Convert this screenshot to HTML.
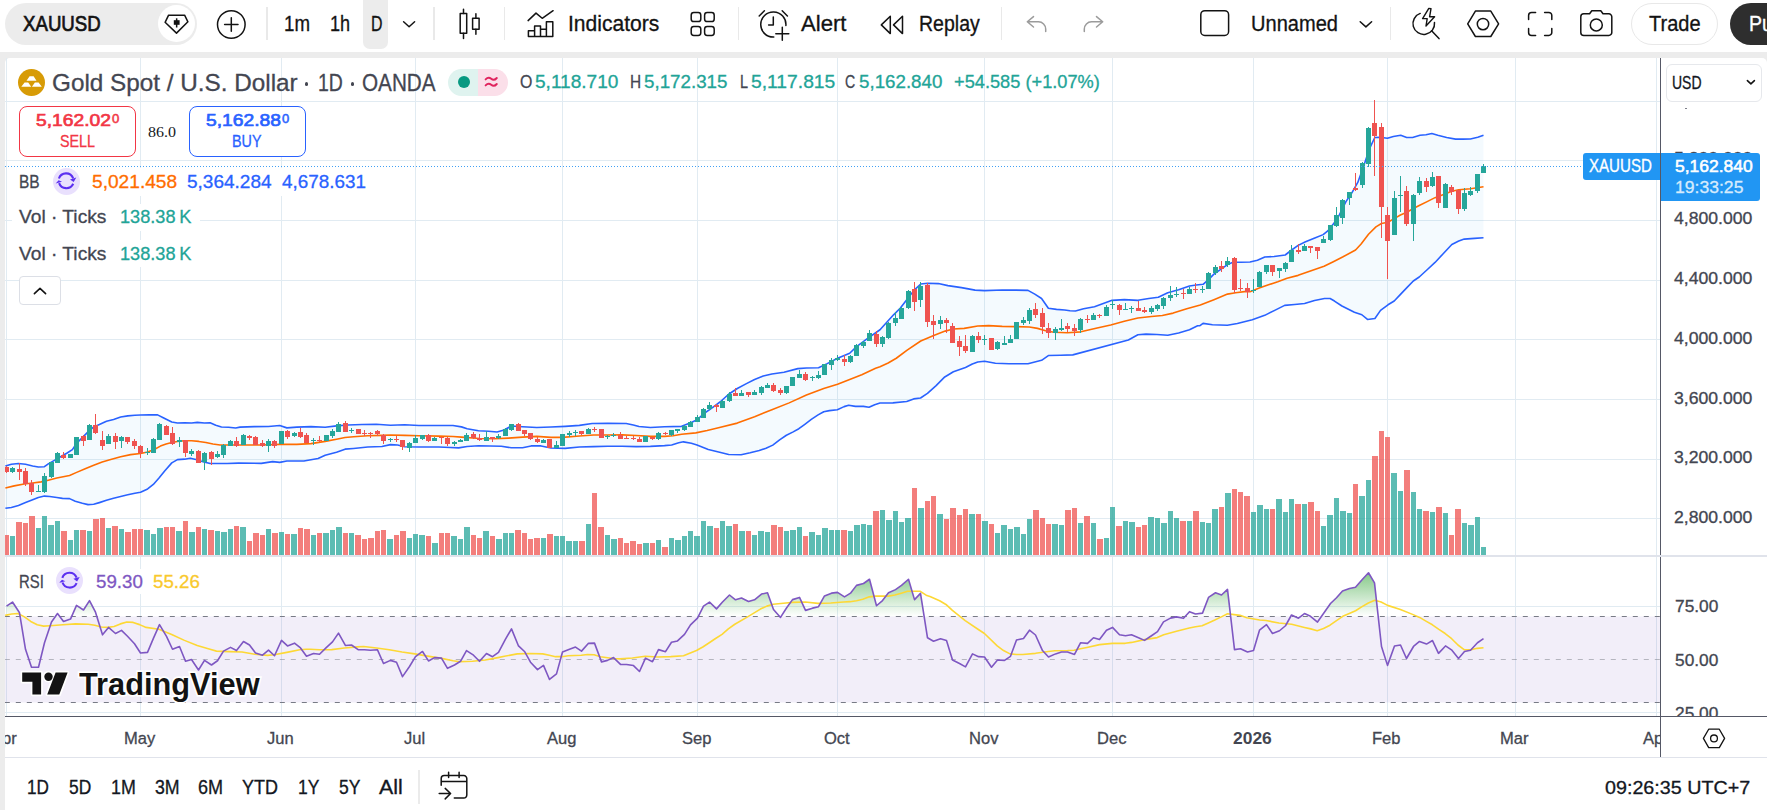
<!DOCTYPE html>
<html lang="en"><head><meta charset="utf-8"><title>XAUUSD chart</title>
<style>
html,body{margin:0;padding:0;background:#fff;}
body{width:1767px;height:810px;overflow:hidden;position:relative;font-family:"Liberation Sans",sans-serif;}
.t,.lg{position:absolute;white-space:nowrap;line-height:1;transform-origin:0 0;display:block;}
.b{position:absolute;box-sizing:border-box;}
</style></head><body>
<div class="b" style="left:0px;top:52px;width:1767px;height:6px;background:#ececec;"></div>
<div class="b" style="left:5px;top:58px;width:8px;height:8px;background:#ececec;"></div>
<div class="b" style="left:5px;top:58px;width:16px;height:16px;background:#fff;border-top-left-radius:5px;"></div>
<div class="b" style="left:1759px;top:58px;width:8px;height:8px;background:#ececec;"></div>
<div class="b" style="left:1751px;top:58px;width:16px;height:16px;background:#fff;border-top-right-radius:5px;"></div>
<div class="b" style="left:5px;top:3px;width:192px;height:42px;background:#ececec;border-radius:21px;"></div>
<div class="b" style="left:158px;top:5px;width:37.4px;height:37.4px;background:#fff;border-radius:50%;"></div>
<div class="b" style="left:363px;top:-8px;width:25px;height:56.6px;background:#ececec;border-radius:7px;"></div>
<div class="b" style="left:266.3px;top:6.8px;width:1.6px;height:33px;background:#e9e9e9;"></div>
<div class="b" style="left:433.3px;top:6.8px;width:1.6px;height:33px;background:#e9e9e9;"></div>
<div class="b" style="left:503.8px;top:6.8px;width:1.6px;height:33px;background:#e9e9e9;"></div>
<div class="b" style="left:737.5999999999999px;top:6.8px;width:1.6px;height:33px;background:#e9e9e9;"></div>
<div class="b" style="left:1000.8px;top:6.8px;width:1.6px;height:33px;background:#e9e9e9;"></div>
<div class="b" style="left:1389.8px;top:6.8px;width:1.6px;height:33px;background:#e9e9e9;"></div>
<div class="b" style="left:1631.3px;top:3px;width:86.6px;height:41.6px;background:#fff;border:1px solid #e8e8e8;border-radius:21px;"></div>
<div class="b" style="left:1730px;top:3px;width:80px;height:41.6px;background:#2e2e2e;border-radius:21px;"></div>
<div class="b" style="left:418.3px;top:770.2px;width:1.6px;height:33.8px;background:#ebebeb;"></div>
<svg width="1767" height="810" viewBox="0 0 1767 810" style="position:absolute;left:0;top:0" shape-rendering="auto">
<defs>
<clipPath id="cm"><rect x="5" y="58" width="1655" height="497"/></clipPath>
<clipPath id="cr"><rect x="5" y="557" width="1655" height="159"/></clipPath>
<linearGradient id="gg" gradientUnits="userSpaceOnUse" x1="0" y1="616.5" x2="0" y2="552"><stop offset="0" stop-color="#4caf50" stop-opacity="0"/><stop offset="1" stop-color="#4caf50" stop-opacity="1"/></linearGradient>
</defs>
<g fill="#e1ebf2" shape-rendering="crispEdges">
<rect x="6" y="58" width="1" height="497"/>
<rect x="6" y="557" width="1" height="159"/>
<rect x="140" y="58" width="1" height="497"/>
<rect x="140" y="557" width="1" height="159"/>
<rect x="281" y="58" width="1" height="497"/>
<rect x="281" y="557" width="1" height="159"/>
<rect x="415" y="58" width="1" height="497"/>
<rect x="415" y="557" width="1" height="159"/>
<rect x="562" y="58" width="1" height="497"/>
<rect x="562" y="557" width="1" height="159"/>
<rect x="697" y="58" width="1" height="497"/>
<rect x="697" y="557" width="1" height="159"/>
<rect x="837" y="58" width="1" height="497"/>
<rect x="837" y="557" width="1" height="159"/>
<rect x="984" y="58" width="1" height="497"/>
<rect x="984" y="557" width="1" height="159"/>
<rect x="1112" y="58" width="1" height="497"/>
<rect x="1112" y="557" width="1" height="159"/>
<rect x="1253" y="58" width="1" height="497"/>
<rect x="1253" y="557" width="1" height="159"/>
<rect x="1387" y="58" width="1" height="497"/>
<rect x="1387" y="557" width="1" height="159"/>
<rect x="1515" y="58" width="1" height="497"/>
<rect x="1515" y="557" width="1" height="159"/>
<rect x="1656" y="58" width="1" height="497"/>
<rect x="1656" y="557" width="1" height="159"/>
<rect x="5" y="101" width="1655" height="1"/>
<rect x="5" y="160" width="1655" height="1"/>
<rect x="5" y="220" width="1655" height="1"/>
<rect x="5" y="280" width="1655" height="1"/>
<rect x="5" y="339" width="1655" height="1"/>
<rect x="5" y="399" width="1655" height="1"/>
<rect x="5" y="459" width="1655" height="1"/>
<rect x="5" y="518" width="1655" height="1"/>
<rect x="5" y="606" width="1655" height="1"/>
<rect x="5" y="712" width="1655" height="1"/>
</g>
<g clip-path="url(#cm)">
<polygon points="5.39,465.98 11.36,464.28 18.46,463.57 25.55,464.28 32.65,465.98 38.33,466.98 44.43,466.69 48.27,463.85 53.95,460.59 59.63,457.18 66.72,453.21 72.4,449.66 76.66,443.27 82.34,437.59 88.02,431.91 93.7,426.94 99.38,424.53 106.47,421.26 113.57,419.42 120.67,417 127.77,415.87 134.87,415.3 140.55,415.02 149.06,414.88 157.58,414.88 163.26,417.71 171.78,421.97 177.46,422.97 184.55,422.68 191.65,422.97 197.33,422.4 204.43,422.97 210.11,422.83 215.79,425.24 221.47,426.94 228.56,427.23 235.66,427.94 240,427.16 254.2,426.6 268.39,426.45 279.75,425.46 286.85,427.87 296.79,427.16 310.98,426.6 325.18,427.31 336.54,425.89 347.89,425.03 362.09,424.47 376.29,424.32 390.48,425.18 404.68,424.75 418.88,425.46 438.75,425.46 452.95,425.46 461.47,426.88 467.14,428.73 478.5,430.71 488.52,431.3 497.04,432.01 504.13,430.02 511.23,426.04 522.59,426.75 536.79,427.46 550.98,427.04 565.18,426.33 579.38,425.34 592.15,423.49 607.77,423.21 626.22,423.49 633.32,424.91 639,426.47 650.36,427.46 664.55,426.75 681.59,426.33 690.11,422.92 697.21,419.66 704.3,413.27 711.4,408.3 720,402.01 728.64,394.23 737.29,388.52 745.93,383.85 754.58,379.53 763.22,376.07 771.87,374 783.97,372.27 797.8,368.64 806.45,367.95 818.55,367.77 827.19,363.62 837.57,358.26 849.67,353.25 856.58,346.68 866.96,338.9 880,329.74 886.79,322.27 893.58,314.81 900.37,308.02 907.16,299.19 913.94,290.37 920.73,283.99 927.52,283.31 938.38,283.58 947.89,285.61 961.47,287.65 975.04,290.1 984.55,290.64 1002.2,289.96 1015.78,290.1 1028,290.37 1034.79,294.17 1041.58,298.51 1048.36,308.29 1056.51,309.38 1064.66,310.05 1070,310.79 1075.43,311.06 1083.58,308.75 1094.44,306.71 1103.94,303.32 1112.09,300.33 1124.31,299.65 1137.89,300.33 1148.75,298.57 1158.26,297.21 1167.76,292.73 1178.62,289.74 1189.48,285.94 1196.27,284.99 1203.06,284.31 1208.49,279.56 1213.92,274.13 1220.71,269.38 1227.5,264.62 1232.93,262.32 1241.08,262.18 1250,262.04 1257.41,260.19 1264.81,257.04 1274.07,256.48 1285.19,255 1291.67,250 1298.15,245.37 1305.56,241.67 1314.81,237.96 1323.15,234.63 1327.78,230.93 1333.33,224.07 1338.89,215.74 1345.93,201.67 1351.85,192.78 1357.78,182.41 1363.7,166.11 1369.63,148.33 1374.81,137.52 1380,137.22 1387.41,138.26 1393.33,136.48 1400.74,135.3 1406.67,137.52 1412.59,137.52 1420,135.3 1425.93,134.7 1431.85,133.52 1437.78,135.3 1446.67,137.52 1455.56,139.15 1462.96,139.15 1470.37,139 1477.78,137.22 1483.5,135.3 1483.5,237.73 1474.53,238.33 1464.27,239.12 1458.74,241.09 1451.82,244.45 1442.94,253.93 1435.04,262.42 1427.14,269.72 1419.24,277.03 1413.32,280.98 1407.39,287.1 1400.48,294.41 1394.22,301.05 1388,304.78 1380.53,310.38 1374.93,318.48 1367.46,319.47 1361.85,314.74 1354.38,312.25 1341.93,306.03 1334.46,301.05 1330.1,298.56 1324.5,298.56 1314.54,300.42 1304.58,303.54 1294.62,304.53 1284.66,305.4 1274.7,310.38 1264.74,315.36 1252.29,319.72 1237.35,323.46 1227.39,325.32 1212.45,324.7 1203.06,323.41 1200,325.7 1197.63,325.72 1189.48,329.8 1178.62,332.92 1167.76,335.23 1156.9,334.55 1146.04,334.14 1137.89,334.82 1128.38,339.98 1072.8,354.86 1060.58,355.27 1048.36,355.54 1041.58,360.29 1034.79,361.92 1028,363.69 1008.99,363.69 995.41,363.28 984.55,361.24 977.76,362.06 972.33,363.96 965.5,367.43 953.4,371.75 944.76,376.94 936.11,385.58 927.47,393.36 920.55,398.03 913.64,398.89 906.72,401.49 892.89,402.87 880,403.02 874.68,404.71 869.02,407.2 863.36,406.41 855.44,406.41 848.65,405.28 844.12,406.64 837.33,409.81 829.41,410.6 823.75,411.73 818.09,414.9 811.3,419.43 804.5,424.52 798.85,428.71 793.19,431.88 786.4,435.27 779.6,439.8 772.81,445.12 766.02,448.29 759.23,450.55 750.18,452.82 741.12,454.74 728.67,454.52 719.62,452.25 708.3,449.42 696.98,444.9 691.32,443.2 683.4,441.84 678.75,442.8 671.65,444.93 664.55,445.64 650.36,446.35 636.16,446.63 621.96,446.2 607.77,446.2 593.57,446.63 579.38,447.06 565.18,448.33 550.98,448.05 541.04,445.92 531.11,445.92 522.59,447.77 511.23,447.77 501.29,446.2 478.5,445.76 467.14,446.47 458.63,447.89 450.11,447.46 438.75,447.04 418.88,447.04 404.68,446.75 397.58,445.05 390.48,444.63 381.96,446.47 367.77,447.04 353.57,448.46 345.05,449.17 336.54,452.15 325.18,455.27 318.08,458.54 303.88,460.95 286.85,460.95 279.75,462.37 272.65,461.66 261.29,463.36 238.5,463.14 227.14,463.43 215.79,463.57 210.11,463.57 203.01,461.72 195.91,459.59 190.23,458.17 184.55,459.17 177.46,459.59 171.78,462.86 164.68,470.95 159,478.05 153.32,484.44 147.64,488.98 140.55,492.25 134.87,493.24 127.77,494.8 120.67,496.5 113.57,498.35 106.47,500.34 99.38,502.61 93.7,504.31 88.02,504.6 82.34,503.18 75.24,501.19 69.56,498.63 62.46,498.35 56.79,497.5 49.69,496.5 44.43,496.08 38.33,497.5 32.65,499.77 25.55,502.61 18.46,505.45 11.36,507.44 5.39,508.29" fill="#2196f3" fill-opacity="0.05"/>
<g shape-rendering="crispEdges">
<rect x="4" y="535" width="5" height="20" fill="#ef5350" fill-opacity="0.75"/>
<rect x="10" y="536" width="5" height="19" fill="#26a69a" fill-opacity="0.75"/>
<rect x="16" y="522" width="6" height="33" fill="#ef5350" fill-opacity="0.75"/>
<rect x="23" y="523" width="5" height="32" fill="#ef5350" fill-opacity="0.75"/>
<rect x="29" y="516" width="6" height="39" fill="#ef5350" fill-opacity="0.75"/>
<rect x="36" y="528" width="5" height="27" fill="#26a69a" fill-opacity="0.75"/>
<rect x="42" y="516" width="5" height="39" fill="#26a69a" fill-opacity="0.75"/>
<rect x="48" y="525" width="6" height="30" fill="#26a69a" fill-opacity="0.75"/>
<rect x="55" y="521" width="5" height="34" fill="#26a69a" fill-opacity="0.75"/>
<rect x="61" y="531" width="6" height="24" fill="#ef5350" fill-opacity="0.75"/>
<rect x="68" y="540" width="5" height="15" fill="#26a69a" fill-opacity="0.75"/>
<rect x="74" y="530" width="5" height="25" fill="#26a69a" fill-opacity="0.75"/>
<rect x="80" y="530" width="6" height="25" fill="#ef5350" fill-opacity="0.75"/>
<rect x="87" y="531" width="5" height="24" fill="#26a69a" fill-opacity="0.75"/>
<rect x="93" y="519" width="6" height="36" fill="#ef5350" fill-opacity="0.75"/>
<rect x="100" y="518" width="5" height="37" fill="#ef5350" fill-opacity="0.75"/>
<rect x="106" y="528" width="5" height="27" fill="#26a69a" fill-opacity="0.75"/>
<rect x="112" y="526" width="6" height="29" fill="#ef5350" fill-opacity="0.75"/>
<rect x="119" y="529" width="5" height="26" fill="#26a69a" fill-opacity="0.75"/>
<rect x="125" y="532" width="6" height="23" fill="#ef5350" fill-opacity="0.75"/>
<rect x="132" y="529" width="5" height="26" fill="#ef5350" fill-opacity="0.75"/>
<rect x="138" y="529" width="5" height="26" fill="#ef5350" fill-opacity="0.75"/>
<rect x="144" y="530" width="6" height="25" fill="#26a69a" fill-opacity="0.75"/>
<rect x="151" y="534" width="5" height="21" fill="#26a69a" fill-opacity="0.75"/>
<rect x="157" y="528" width="6" height="27" fill="#26a69a" fill-opacity="0.75"/>
<rect x="164" y="527" width="5" height="28" fill="#ef5350" fill-opacity="0.75"/>
<rect x="170" y="527" width="5" height="28" fill="#ef5350" fill-opacity="0.75"/>
<rect x="176" y="531" width="6" height="24" fill="#26a69a" fill-opacity="0.75"/>
<rect x="183" y="521" width="5" height="34" fill="#ef5350" fill-opacity="0.75"/>
<rect x="189" y="532" width="6" height="23" fill="#26a69a" fill-opacity="0.75"/>
<rect x="196" y="527" width="5" height="28" fill="#ef5350" fill-opacity="0.75"/>
<rect x="202" y="529" width="5" height="26" fill="#26a69a" fill-opacity="0.75"/>
<rect x="208" y="530" width="6" height="25" fill="#ef5350" fill-opacity="0.75"/>
<rect x="215" y="531" width="5" height="24" fill="#26a69a" fill-opacity="0.75"/>
<rect x="221" y="532" width="6" height="23" fill="#26a69a" fill-opacity="0.75"/>
<rect x="228" y="529" width="5" height="26" fill="#26a69a" fill-opacity="0.75"/>
<rect x="234" y="526" width="5" height="29" fill="#ef5350" fill-opacity="0.75"/>
<rect x="240" y="527" width="6" height="28" fill="#26a69a" fill-opacity="0.75"/>
<rect x="247" y="541" width="5" height="14" fill="#ef5350" fill-opacity="0.75"/>
<rect x="253" y="533" width="6" height="22" fill="#ef5350" fill-opacity="0.75"/>
<rect x="260" y="535" width="5" height="20" fill="#ef5350" fill-opacity="0.75"/>
<rect x="266" y="529" width="5" height="26" fill="#26a69a" fill-opacity="0.75"/>
<rect x="272" y="533" width="6" height="22" fill="#ef5350" fill-opacity="0.75"/>
<rect x="279" y="532" width="5" height="23" fill="#26a69a" fill-opacity="0.75"/>
<rect x="285" y="534" width="5" height="21" fill="#ef5350" fill-opacity="0.75"/>
<rect x="291" y="534" width="6" height="21" fill="#26a69a" fill-opacity="0.75"/>
<rect x="298" y="528" width="5" height="27" fill="#ef5350" fill-opacity="0.75"/>
<rect x="304" y="529" width="6" height="26" fill="#ef5350" fill-opacity="0.75"/>
<rect x="311" y="535" width="5" height="20" fill="#26a69a" fill-opacity="0.75"/>
<rect x="317" y="533" width="5" height="22" fill="#ef5350" fill-opacity="0.75"/>
<rect x="323" y="533" width="6" height="22" fill="#26a69a" fill-opacity="0.75"/>
<rect x="330" y="530" width="5" height="25" fill="#26a69a" fill-opacity="0.75"/>
<rect x="336" y="527" width="6" height="28" fill="#26a69a" fill-opacity="0.75"/>
<rect x="343" y="533" width="5" height="22" fill="#ef5350" fill-opacity="0.75"/>
<rect x="349" y="533" width="5" height="22" fill="#26a69a" fill-opacity="0.75"/>
<rect x="355" y="535" width="6" height="20" fill="#ef5350" fill-opacity="0.75"/>
<rect x="362" y="539" width="5" height="16" fill="#ef5350" fill-opacity="0.75"/>
<rect x="368" y="538" width="6" height="17" fill="#ef5350" fill-opacity="0.75"/>
<rect x="375" y="531" width="5" height="24" fill="#ef5350" fill-opacity="0.75"/>
<rect x="381" y="530" width="5" height="25" fill="#ef5350" fill-opacity="0.75"/>
<rect x="387" y="539" width="6" height="16" fill="#26a69a" fill-opacity="0.75"/>
<rect x="394" y="535" width="5" height="20" fill="#ef5350" fill-opacity="0.75"/>
<rect x="400" y="531" width="6" height="24" fill="#ef5350" fill-opacity="0.75"/>
<rect x="407" y="538" width="5" height="17" fill="#26a69a" fill-opacity="0.75"/>
<rect x="413" y="534" width="5" height="21" fill="#26a69a" fill-opacity="0.75"/>
<rect x="419" y="535" width="6" height="20" fill="#26a69a" fill-opacity="0.75"/>
<rect x="426" y="536" width="5" height="19" fill="#ef5350" fill-opacity="0.75"/>
<rect x="432" y="543" width="6" height="12" fill="#26a69a" fill-opacity="0.75"/>
<rect x="439" y="533" width="5" height="22" fill="#ef5350" fill-opacity="0.75"/>
<rect x="445" y="533" width="5" height="22" fill="#ef5350" fill-opacity="0.75"/>
<rect x="451" y="536" width="6" height="19" fill="#26a69a" fill-opacity="0.75"/>
<rect x="458" y="539" width="5" height="16" fill="#26a69a" fill-opacity="0.75"/>
<rect x="464" y="527" width="6" height="28" fill="#26a69a" fill-opacity="0.75"/>
<rect x="471" y="535" width="5" height="20" fill="#ef5350" fill-opacity="0.75"/>
<rect x="477" y="538" width="5" height="17" fill="#ef5350" fill-opacity="0.75"/>
<rect x="483" y="531" width="6" height="24" fill="#26a69a" fill-opacity="0.75"/>
<rect x="490" y="536" width="5" height="19" fill="#ef5350" fill-opacity="0.75"/>
<rect x="496" y="539" width="6" height="16" fill="#26a69a" fill-opacity="0.75"/>
<rect x="503" y="533" width="5" height="22" fill="#26a69a" fill-opacity="0.75"/>
<rect x="509" y="533" width="5" height="22" fill="#26a69a" fill-opacity="0.75"/>
<rect x="515" y="530" width="6" height="25" fill="#ef5350" fill-opacity="0.75"/>
<rect x="522" y="533" width="5" height="22" fill="#ef5350" fill-opacity="0.75"/>
<rect x="528" y="539" width="5" height="16" fill="#ef5350" fill-opacity="0.75"/>
<rect x="534" y="538" width="6" height="17" fill="#ef5350" fill-opacity="0.75"/>
<rect x="541" y="538" width="5" height="17" fill="#26a69a" fill-opacity="0.75"/>
<rect x="547" y="534" width="6" height="21" fill="#ef5350" fill-opacity="0.75"/>
<rect x="554" y="536" width="5" height="19" fill="#26a69a" fill-opacity="0.75"/>
<rect x="560" y="536" width="5" height="19" fill="#26a69a" fill-opacity="0.75"/>
<rect x="566" y="541" width="6" height="14" fill="#26a69a" fill-opacity="0.75"/>
<rect x="573" y="541" width="5" height="14" fill="#26a69a" fill-opacity="0.75"/>
<rect x="579" y="541" width="6" height="14" fill="#ef5350" fill-opacity="0.75"/>
<rect x="586" y="524" width="5" height="31" fill="#26a69a" fill-opacity="0.75"/>
<rect x="592" y="493" width="5" height="62" fill="#ef5350" fill-opacity="0.75"/>
<rect x="598" y="527" width="6" height="28" fill="#ef5350" fill-opacity="0.75"/>
<rect x="605" y="535" width="5" height="20" fill="#26a69a" fill-opacity="0.75"/>
<rect x="611" y="539" width="6" height="16" fill="#26a69a" fill-opacity="0.75"/>
<rect x="618" y="538" width="5" height="17" fill="#ef5350" fill-opacity="0.75"/>
<rect x="624" y="543" width="5" height="12" fill="#ef5350" fill-opacity="0.75"/>
<rect x="630" y="541" width="6" height="14" fill="#ef5350" fill-opacity="0.75"/>
<rect x="637" y="544" width="5" height="11" fill="#ef5350" fill-opacity="0.75"/>
<rect x="643" y="543" width="6" height="12" fill="#26a69a" fill-opacity="0.75"/>
<rect x="650" y="543" width="5" height="12" fill="#ef5350" fill-opacity="0.75"/>
<rect x="656" y="540" width="5" height="15" fill="#26a69a" fill-opacity="0.75"/>
<rect x="662" y="547" width="6" height="8" fill="#ef5350" fill-opacity="0.75"/>
<rect x="669" y="538" width="5" height="17" fill="#26a69a" fill-opacity="0.75"/>
<rect x="675" y="540" width="6" height="15" fill="#26a69a" fill-opacity="0.75"/>
<rect x="682" y="536" width="5" height="19" fill="#26a69a" fill-opacity="0.75"/>
<rect x="688" y="531" width="5" height="24" fill="#26a69a" fill-opacity="0.75"/>
<rect x="694" y="536" width="6" height="19" fill="#26a69a" fill-opacity="0.75"/>
<rect x="701" y="521" width="5" height="34" fill="#26a69a" fill-opacity="0.75"/>
<rect x="707" y="526" width="6" height="29" fill="#26a69a" fill-opacity="0.75"/>
<rect x="714" y="528" width="5" height="27" fill="#ef5350" fill-opacity="0.75"/>
<rect x="720" y="521" width="5" height="34" fill="#26a69a" fill-opacity="0.75"/>
<rect x="726" y="526" width="6" height="29" fill="#26a69a" fill-opacity="0.75"/>
<rect x="733" y="524" width="5" height="31" fill="#ef5350" fill-opacity="0.75"/>
<rect x="739" y="531" width="6" height="24" fill="#26a69a" fill-opacity="0.75"/>
<rect x="746" y="531" width="5" height="24" fill="#ef5350" fill-opacity="0.75"/>
<rect x="752" y="535" width="5" height="20" fill="#26a69a" fill-opacity="0.75"/>
<rect x="758" y="531" width="6" height="24" fill="#26a69a" fill-opacity="0.75"/>
<rect x="765" y="532" width="5" height="23" fill="#26a69a" fill-opacity="0.75"/>
<rect x="771" y="525" width="6" height="30" fill="#ef5350" fill-opacity="0.75"/>
<rect x="778" y="527" width="5" height="28" fill="#ef5350" fill-opacity="0.75"/>
<rect x="784" y="531" width="5" height="24" fill="#26a69a" fill-opacity="0.75"/>
<rect x="790" y="530" width="6" height="25" fill="#26a69a" fill-opacity="0.75"/>
<rect x="797" y="527" width="5" height="28" fill="#26a69a" fill-opacity="0.75"/>
<rect x="803" y="536" width="5" height="19" fill="#ef5350" fill-opacity="0.75"/>
<rect x="809" y="532" width="6" height="23" fill="#26a69a" fill-opacity="0.75"/>
<rect x="816" y="535" width="5" height="20" fill="#26a69a" fill-opacity="0.75"/>
<rect x="822" y="528" width="6" height="27" fill="#26a69a" fill-opacity="0.75"/>
<rect x="829" y="530" width="5" height="25" fill="#26a69a" fill-opacity="0.75"/>
<rect x="835" y="530" width="5" height="25" fill="#26a69a" fill-opacity="0.75"/>
<rect x="841" y="530" width="6" height="25" fill="#ef5350" fill-opacity="0.75"/>
<rect x="848" y="531" width="5" height="24" fill="#26a69a" fill-opacity="0.75"/>
<rect x="854" y="525" width="6" height="30" fill="#26a69a" fill-opacity="0.75"/>
<rect x="861" y="524" width="5" height="31" fill="#26a69a" fill-opacity="0.75"/>
<rect x="867" y="525" width="5" height="30" fill="#26a69a" fill-opacity="0.75"/>
<rect x="873" y="511" width="6" height="44" fill="#ef5350" fill-opacity="0.75"/>
<rect x="880" y="510" width="5" height="45" fill="#26a69a" fill-opacity="0.75"/>
<rect x="886" y="520" width="6" height="35" fill="#26a69a" fill-opacity="0.75"/>
<rect x="893" y="511" width="5" height="44" fill="#26a69a" fill-opacity="0.75"/>
<rect x="899" y="522" width="5" height="33" fill="#26a69a" fill-opacity="0.75"/>
<rect x="905" y="518" width="6" height="37" fill="#26a69a" fill-opacity="0.75"/>
<rect x="912" y="488" width="5" height="67" fill="#ef5350" fill-opacity="0.75"/>
<rect x="918" y="508" width="6" height="47" fill="#26a69a" fill-opacity="0.75"/>
<rect x="925" y="501" width="5" height="54" fill="#ef5350" fill-opacity="0.75"/>
<rect x="931" y="496" width="5" height="59" fill="#ef5350" fill-opacity="0.75"/>
<rect x="937" y="514" width="6" height="41" fill="#26a69a" fill-opacity="0.75"/>
<rect x="944" y="519" width="5" height="36" fill="#ef5350" fill-opacity="0.75"/>
<rect x="950" y="508" width="6" height="47" fill="#ef5350" fill-opacity="0.75"/>
<rect x="957" y="515" width="5" height="40" fill="#ef5350" fill-opacity="0.75"/>
<rect x="963" y="509" width="5" height="46" fill="#ef5350" fill-opacity="0.75"/>
<rect x="969" y="514" width="6" height="41" fill="#26a69a" fill-opacity="0.75"/>
<rect x="976" y="514" width="5" height="41" fill="#ef5350" fill-opacity="0.75"/>
<rect x="982" y="521" width="6" height="34" fill="#26a69a" fill-opacity="0.75"/>
<rect x="989" y="524" width="5" height="31" fill="#ef5350" fill-opacity="0.75"/>
<rect x="995" y="533" width="5" height="22" fill="#26a69a" fill-opacity="0.75"/>
<rect x="1001" y="525" width="6" height="30" fill="#26a69a" fill-opacity="0.75"/>
<rect x="1008" y="529" width="5" height="26" fill="#26a69a" fill-opacity="0.75"/>
<rect x="1014" y="527" width="6" height="28" fill="#26a69a" fill-opacity="0.75"/>
<rect x="1021" y="534" width="5" height="21" fill="#26a69a" fill-opacity="0.75"/>
<rect x="1027" y="519" width="5" height="36" fill="#26a69a" fill-opacity="0.75"/>
<rect x="1033" y="510" width="6" height="45" fill="#ef5350" fill-opacity="0.75"/>
<rect x="1040" y="518" width="5" height="37" fill="#ef5350" fill-opacity="0.75"/>
<rect x="1046" y="524" width="5" height="31" fill="#ef5350" fill-opacity="0.75"/>
<rect x="1052" y="524" width="6" height="31" fill="#26a69a" fill-opacity="0.75"/>
<rect x="1059" y="525" width="5" height="30" fill="#26a69a" fill-opacity="0.75"/>
<rect x="1065" y="510" width="6" height="45" fill="#ef5350" fill-opacity="0.75"/>
<rect x="1072" y="508" width="5" height="47" fill="#ef5350" fill-opacity="0.75"/>
<rect x="1078" y="523" width="5" height="32" fill="#26a69a" fill-opacity="0.75"/>
<rect x="1084" y="516" width="6" height="39" fill="#ef5350" fill-opacity="0.75"/>
<rect x="1091" y="523" width="5" height="32" fill="#26a69a" fill-opacity="0.75"/>
<rect x="1097" y="539" width="6" height="16" fill="#ef5350" fill-opacity="0.75"/>
<rect x="1104" y="538" width="5" height="17" fill="#26a69a" fill-opacity="0.75"/>
<rect x="1110" y="507" width="5" height="48" fill="#26a69a" fill-opacity="0.75"/>
<rect x="1116" y="526" width="6" height="29" fill="#ef5350" fill-opacity="0.75"/>
<rect x="1123" y="521" width="5" height="34" fill="#26a69a" fill-opacity="0.75"/>
<rect x="1129" y="522" width="6" height="33" fill="#26a69a" fill-opacity="0.75"/>
<rect x="1136" y="527" width="5" height="28" fill="#ef5350" fill-opacity="0.75"/>
<rect x="1142" y="525" width="5" height="30" fill="#ef5350" fill-opacity="0.75"/>
<rect x="1148" y="517" width="6" height="38" fill="#26a69a" fill-opacity="0.75"/>
<rect x="1155" y="518" width="5" height="37" fill="#26a69a" fill-opacity="0.75"/>
<rect x="1161" y="523" width="6" height="32" fill="#26a69a" fill-opacity="0.75"/>
<rect x="1168" y="511" width="5" height="44" fill="#26a69a" fill-opacity="0.75"/>
<rect x="1174" y="518" width="5" height="37" fill="#26a69a" fill-opacity="0.75"/>
<rect x="1180" y="521" width="6" height="34" fill="#ef5350" fill-opacity="0.75"/>
<rect x="1187" y="521" width="5" height="34" fill="#26a69a" fill-opacity="0.75"/>
<rect x="1193" y="511" width="6" height="44" fill="#ef5350" fill-opacity="0.75"/>
<rect x="1200" y="522" width="5" height="33" fill="#26a69a" fill-opacity="0.75"/>
<rect x="1206" y="523" width="5" height="32" fill="#26a69a" fill-opacity="0.75"/>
<rect x="1212" y="509" width="6" height="46" fill="#26a69a" fill-opacity="0.75"/>
<rect x="1219" y="507" width="5" height="48" fill="#ef5350" fill-opacity="0.75"/>
<rect x="1225" y="493" width="6" height="62" fill="#26a69a" fill-opacity="0.75"/>
<rect x="1232" y="489" width="5" height="66" fill="#ef5350" fill-opacity="0.75"/>
<rect x="1238" y="492" width="5" height="63" fill="#ef5350" fill-opacity="0.75"/>
<rect x="1244" y="496" width="6" height="59" fill="#ef5350" fill-opacity="0.75"/>
<rect x="1251" y="512" width="5" height="43" fill="#26a69a" fill-opacity="0.75"/>
<rect x="1257" y="505" width="6" height="50" fill="#26a69a" fill-opacity="0.75"/>
<rect x="1264" y="509" width="5" height="46" fill="#26a69a" fill-opacity="0.75"/>
<rect x="1270" y="509" width="5" height="46" fill="#ef5350" fill-opacity="0.75"/>
<rect x="1276" y="499" width="6" height="56" fill="#26a69a" fill-opacity="0.75"/>
<rect x="1283" y="512" width="5" height="43" fill="#26a69a" fill-opacity="0.75"/>
<rect x="1289" y="499" width="5" height="56" fill="#26a69a" fill-opacity="0.75"/>
<rect x="1295" y="504" width="6" height="51" fill="#ef5350" fill-opacity="0.75"/>
<rect x="1302" y="504" width="5" height="51" fill="#26a69a" fill-opacity="0.75"/>
<rect x="1308" y="502" width="6" height="53" fill="#ef5350" fill-opacity="0.75"/>
<rect x="1315" y="511" width="5" height="44" fill="#ef5350" fill-opacity="0.75"/>
<rect x="1321" y="526" width="5" height="29" fill="#26a69a" fill-opacity="0.75"/>
<rect x="1327" y="515" width="6" height="40" fill="#26a69a" fill-opacity="0.75"/>
<rect x="1334" y="498" width="5" height="57" fill="#26a69a" fill-opacity="0.75"/>
<rect x="1340" y="511" width="6" height="44" fill="#26a69a" fill-opacity="0.75"/>
<rect x="1347" y="513" width="5" height="42" fill="#26a69a" fill-opacity="0.75"/>
<rect x="1353" y="484" width="5" height="71" fill="#ef5350" fill-opacity="0.75"/>
<rect x="1359" y="496" width="6" height="59" fill="#26a69a" fill-opacity="0.75"/>
<rect x="1366" y="480" width="5" height="75" fill="#26a69a" fill-opacity="0.75"/>
<rect x="1372" y="456" width="6" height="99" fill="#ef5350" fill-opacity="0.75"/>
<rect x="1379" y="431" width="5" height="124" fill="#ef5350" fill-opacity="0.75"/>
<rect x="1385" y="437" width="5" height="118" fill="#ef5350" fill-opacity="0.75"/>
<rect x="1391" y="473" width="6" height="82" fill="#26a69a" fill-opacity="0.75"/>
<rect x="1398" y="491" width="5" height="64" fill="#26a69a" fill-opacity="0.75"/>
<rect x="1404" y="470" width="6" height="85" fill="#ef5350" fill-opacity="0.75"/>
<rect x="1411" y="492" width="5" height="63" fill="#26a69a" fill-opacity="0.75"/>
<rect x="1417" y="509" width="5" height="46" fill="#26a69a" fill-opacity="0.75"/>
<rect x="1423" y="511" width="6" height="44" fill="#ef5350" fill-opacity="0.75"/>
<rect x="1430" y="512" width="5" height="43" fill="#26a69a" fill-opacity="0.75"/>
<rect x="1436" y="507" width="6" height="48" fill="#ef5350" fill-opacity="0.75"/>
<rect x="1443" y="513" width="5" height="42" fill="#26a69a" fill-opacity="0.75"/>
<rect x="1449" y="535" width="5" height="20" fill="#ef5350" fill-opacity="0.75"/>
<rect x="1455" y="509" width="6" height="46" fill="#ef5350" fill-opacity="0.75"/>
<rect x="1462" y="523" width="5" height="32" fill="#26a69a" fill-opacity="0.75"/>
<rect x="1468" y="525" width="6" height="30" fill="#26a69a" fill-opacity="0.75"/>
<rect x="1475" y="517" width="5" height="38" fill="#26a69a" fill-opacity="0.75"/>
<rect x="1481" y="547" width="5" height="8" fill="#26a69a" fill-opacity="0.75"/>
</g>
<path d="M5.39 487.99 L14.2 485.86 L24.13 484.01 L32.65 483.02 L41.17 481.88 L48.27 480.18 L56.79 478.05 L69.56 475.49 L76.66 472.37 L85.18 468.82 L93.7 465.27 L102.21 462.01 L110.73 459.59 L120.67 456.75 L130.61 454.63 L140.55 453.49 L147.64 452.07 L154.74 449.23 L160.42 446.11 L166.1 443.98 L171.78 442.56 L177.46 441.42 L184.55 440.71 L191.65 440.71 L198.75 441.42 L205.85 442.56 L212.95 443.98 L220.05 444.97 L229.98 444.97 L238.5 444.97 L261.29 445.05 L279.75 444.34 L296.79 444.34 L310.98 443.63 L325.18 441.36 L336.54 439.23 L345.05 437.53 L353.57 436.82 L367.77 435.82 L381.96 435.4 L390.48 434.97 L404.68 435.4 L418.88 435.82 L438.75 436.11 L452.95 436.53 L461.47 437.1 L472.82 437.95 L479.92 438.52 L494.2 438.82 L508.39 438.11 L522.59 437.12 L536.79 436.41 L550.98 437.4 L562.34 437.4 L579.38 435.98 L593.57 434.99 L607.77 434.99 L621.96 434.85 L636.16 435.56 L650.36 436.41 L664.55 436.41 L673.07 435.7 L681.59 434.28 L695.79 432.86 L707.14 430.59 L718.5 427.75 L737.29 423.1 L754.58 416.7 L771.87 409.79 L789.16 402.87 L806.45 395.09 L823.73 388.52 L837.57 384.2 L849.67 379.53 L861.77 374.69 L875.6 368.29 L880 366.81 L888.15 363.01 L896.29 358.26 L907.16 350.11 L920.73 341.01 L934.31 335.17 L945.17 331.1 L953.32 329.06 L964.18 328.38 L977.76 325.94 L988.62 325.67 L1002.2 326.35 L1015.78 326.62 L1029.36 327.03 L1037.5 328.38 L1045.65 330.83 L1053.79 332.19 L1067.37 332.73 L1080.86 331.83 L1097.16 328.03 L1110.73 325.04 L1124.31 321.24 L1137.89 317.98 L1151.47 316.49 L1162.33 315.54 L1173.19 313.1 L1186.77 308.75 L1200.35 304.95 L1213.92 299.65 L1227.5 294.09 L1235.65 292.73 L1246.51 291.37 L1250 291.67 L1259.26 287.96 L1268.52 284.81 L1277.78 281.85 L1287.04 278.33 L1298.15 275.37 L1311.11 270.74 L1324.07 266.3 L1333.33 261.67 L1342.59 257.04 L1355.56 250 L1361.11 244.07 L1368.52 234.26 L1375.93 226.85 L1381.48 223.52 L1387.96 222.22 L1394.56 218.38 L1400.48 215.02 L1407.39 212.06 L1413.32 208.51 L1419.24 205.55 L1427.14 201.6 L1435.04 197.65 L1442.94 194.68 L1451.82 191.33 L1458.74 189.75 L1470.58 188.76 L1483.5 186.79" fill="none" stroke="#ff6d00" stroke-width="1.6" stroke-linejoin="round"/>
<path d="M5.39 465.98 L11.36 464.28 L18.46 463.57 L25.55 464.28 L32.65 465.98 L38.33 466.98 L44.43 466.69 L48.27 463.85 L53.95 460.59 L59.63 457.18 L66.72 453.21 L72.4 449.66 L76.66 443.27 L82.34 437.59 L88.02 431.91 L93.7 426.94 L99.38 424.53 L106.47 421.26 L113.57 419.42 L120.67 417 L127.77 415.87 L134.87 415.3 L140.55 415.02 L149.06 414.88 L157.58 414.88 L163.26 417.71 L171.78 421.97 L177.46 422.97 L184.55 422.68 L191.65 422.97 L197.33 422.4 L204.43 422.97 L210.11 422.83 L215.79 425.24 L221.47 426.94 L228.56 427.23 L235.66 427.94 L240 427.16 L254.2 426.6 L268.39 426.45 L279.75 425.46 L286.85 427.87 L296.79 427.16 L310.98 426.6 L325.18 427.31 L336.54 425.89 L347.89 425.03 L362.09 424.47 L376.29 424.32 L390.48 425.18 L404.68 424.75 L418.88 425.46 L438.75 425.46 L452.95 425.46 L461.47 426.88 L467.14 428.73 L478.5 430.71 L488.52 431.3 L497.04 432.01 L504.13 430.02 L511.23 426.04 L522.59 426.75 L536.79 427.46 L550.98 427.04 L565.18 426.33 L579.38 425.34 L592.15 423.49 L607.77 423.21 L626.22 423.49 L633.32 424.91 L639 426.47 L650.36 427.46 L664.55 426.75 L681.59 426.33 L690.11 422.92 L697.21 419.66 L704.3 413.27 L711.4 408.3 L720 402.01 L728.64 394.23 L737.29 388.52 L745.93 383.85 L754.58 379.53 L763.22 376.07 L771.87 374 L783.97 372.27 L797.8 368.64 L806.45 367.95 L818.55 367.77 L827.19 363.62 L837.57 358.26 L849.67 353.25 L856.58 346.68 L866.96 338.9 L880 329.74 L886.79 322.27 L893.58 314.81 L900.37 308.02 L907.16 299.19 L913.94 290.37 L920.73 283.99 L927.52 283.31 L938.38 283.58 L947.89 285.61 L961.47 287.65 L975.04 290.1 L984.55 290.64 L1002.2 289.96 L1015.78 290.1 L1028 290.37 L1034.79 294.17 L1041.58 298.51 L1048.36 308.29 L1056.51 309.38 L1064.66 310.05 L1070 310.79 L1075.43 311.06 L1083.58 308.75 L1094.44 306.71 L1103.94 303.32 L1112.09 300.33 L1124.31 299.65 L1137.89 300.33 L1148.75 298.57 L1158.26 297.21 L1167.76 292.73 L1178.62 289.74 L1189.48 285.94 L1196.27 284.99 L1203.06 284.31 L1208.49 279.56 L1213.92 274.13 L1220.71 269.38 L1227.5 264.62 L1232.93 262.32 L1241.08 262.18 L1250 262.04 L1257.41 260.19 L1264.81 257.04 L1274.07 256.48 L1285.19 255 L1291.67 250 L1298.15 245.37 L1305.56 241.67 L1314.81 237.96 L1323.15 234.63 L1327.78 230.93 L1333.33 224.07 L1338.89 215.74 L1345.93 201.67 L1351.85 192.78 L1357.78 182.41 L1363.7 166.11 L1369.63 148.33 L1374.81 137.52 L1380 137.22 L1387.41 138.26 L1393.33 136.48 L1400.74 135.3 L1406.67 137.52 L1412.59 137.52 L1420 135.3 L1425.93 134.7 L1431.85 133.52 L1437.78 135.3 L1446.67 137.52 L1455.56 139.15 L1462.96 139.15 L1470.37 139 L1477.78 137.22 L1483.5 135.3" fill="none" stroke="#2962ff" stroke-width="1.6" stroke-linejoin="round"/>
<path d="M5.39 508.29 L11.36 507.44 L18.46 505.45 L25.55 502.61 L32.65 499.77 L38.33 497.5 L44.43 496.08 L49.69 496.5 L56.79 497.5 L62.46 498.35 L69.56 498.63 L75.24 501.19 L82.34 503.18 L88.02 504.6 L93.7 504.31 L99.38 502.61 L106.47 500.34 L113.57 498.35 L120.67 496.5 L127.77 494.8 L134.87 493.24 L140.55 492.25 L147.64 488.98 L153.32 484.44 L159 478.05 L164.68 470.95 L171.78 462.86 L177.46 459.59 L184.55 459.17 L190.23 458.17 L195.91 459.59 L203.01 461.72 L210.11 463.57 L215.79 463.57 L227.14 463.43 L238.5 463.14 L261.29 463.36 L272.65 461.66 L279.75 462.37 L286.85 460.95 L303.88 460.95 L318.08 458.54 L325.18 455.27 L336.54 452.15 L345.05 449.17 L353.57 448.46 L367.77 447.04 L381.96 446.47 L390.48 444.63 L397.58 445.05 L404.68 446.75 L418.88 447.04 L438.75 447.04 L450.11 447.46 L458.63 447.89 L467.14 446.47 L478.5 445.76 L501.29 446.2 L511.23 447.77 L522.59 447.77 L531.11 445.92 L541.04 445.92 L550.98 448.05 L565.18 448.33 L579.38 447.06 L593.57 446.63 L607.77 446.2 L621.96 446.2 L636.16 446.63 L650.36 446.35 L664.55 445.64 L671.65 444.93 L678.75 442.8 L683.4 441.84 L691.32 443.2 L696.98 444.9 L708.3 449.42 L719.62 452.25 L728.67 454.52 L741.12 454.74 L750.18 452.82 L759.23 450.55 L766.02 448.29 L772.81 445.12 L779.6 439.8 L786.4 435.27 L793.19 431.88 L798.85 428.71 L804.5 424.52 L811.3 419.43 L818.09 414.9 L823.75 411.73 L829.41 410.6 L837.33 409.81 L844.12 406.64 L848.65 405.28 L855.44 406.41 L863.36 406.41 L869.02 407.2 L874.68 404.71 L880 403.02 L892.89 402.87 L906.72 401.49 L913.64 398.89 L920.55 398.03 L927.47 393.36 L936.11 385.58 L944.76 376.94 L953.4 371.75 L965.5 367.43 L972.33 363.96 L977.76 362.06 L984.55 361.24 L995.41 363.28 L1008.99 363.69 L1028 363.69 L1034.79 361.92 L1041.58 360.29 L1048.36 355.54 L1060.58 355.27 L1072.8 354.86 L1128.38 339.98 L1137.89 334.82 L1146.04 334.14 L1156.9 334.55 L1167.76 335.23 L1178.62 332.92 L1189.48 329.8 L1197.63 325.72 L1200 325.7 L1203.06 323.41 L1212.45 324.7 L1227.39 325.32 L1237.35 323.46 L1252.29 319.72 L1264.74 315.36 L1274.7 310.38 L1284.66 305.4 L1294.62 304.53 L1304.58 303.54 L1314.54 300.42 L1324.5 298.56 L1330.1 298.56 L1334.46 301.05 L1341.93 306.03 L1354.38 312.25 L1361.85 314.74 L1367.46 319.47 L1374.93 318.48 L1380.53 310.38 L1388 304.78 L1394.22 301.05 L1400.48 294.41 L1407.39 287.1 L1413.32 280.98 L1419.24 277.03 L1427.14 269.72 L1435.04 262.42 L1442.94 253.93 L1451.82 244.45 L1458.74 241.09 L1464.27 239.12 L1474.53 238.33 L1483.5 237.73" fill="none" stroke="#2962ff" stroke-width="1.6" stroke-linejoin="round"/>
<g shape-rendering="crispEdges">
<rect x="6" y="466" width="1" height="7" fill="#ef5350"/>
<rect x="4" y="467" width="5" height="5" fill="#ef5350"/>
<rect x="12" y="467" width="1" height="6" fill="#26a69a"/>
<rect x="10" y="468" width="5" height="4" fill="#26a69a"/>
<rect x="19" y="463" width="1" height="17" fill="#ef5350"/>
<rect x="17" y="469" width="5" height="3" fill="#ef5350"/>
<rect x="25" y="468" width="1" height="18" fill="#ef5350"/>
<rect x="23" y="471" width="5" height="13" fill="#ef5350"/>
<rect x="31" y="480" width="1" height="15" fill="#ef5350"/>
<rect x="29" y="483" width="5" height="9" fill="#ef5350"/>
<rect x="38" y="485" width="1" height="7" fill="#26a69a"/>
<rect x="36" y="491" width="5" height="1" fill="#26a69a"/>
<rect x="44" y="473" width="1" height="20" fill="#26a69a"/>
<rect x="42" y="476" width="5" height="16" fill="#26a69a"/>
<rect x="51" y="462" width="1" height="16" fill="#26a69a"/>
<rect x="49" y="462" width="5" height="15" fill="#26a69a"/>
<rect x="57" y="452" width="1" height="11" fill="#26a69a"/>
<rect x="55" y="453" width="5" height="10" fill="#26a69a"/>
<rect x="63" y="452" width="1" height="7" fill="#ef5350"/>
<rect x="61" y="455" width="5" height="3" fill="#ef5350"/>
<rect x="70" y="454" width="1" height="4" fill="#26a69a"/>
<rect x="68" y="454" width="5" height="4" fill="#26a69a"/>
<rect x="76" y="437" width="1" height="18" fill="#26a69a"/>
<rect x="74" y="437" width="5" height="18" fill="#26a69a"/>
<rect x="83" y="435" width="1" height="11" fill="#ef5350"/>
<rect x="81" y="436" width="5" height="5" fill="#ef5350"/>
<rect x="89" y="424" width="1" height="16" fill="#26a69a"/>
<rect x="87" y="425" width="5" height="15" fill="#26a69a"/>
<rect x="95" y="414" width="1" height="20" fill="#ef5350"/>
<rect x="93" y="425" width="5" height="8" fill="#ef5350"/>
<rect x="102" y="431" width="1" height="19" fill="#ef5350"/>
<rect x="100" y="440" width="5" height="6" fill="#ef5350"/>
<rect x="108" y="434" width="1" height="10" fill="#26a69a"/>
<rect x="106" y="436" width="5" height="8" fill="#26a69a"/>
<rect x="115" y="433" width="1" height="16" fill="#ef5350"/>
<rect x="113" y="436" width="5" height="6" fill="#ef5350"/>
<rect x="121" y="436" width="1" height="12" fill="#26a69a"/>
<rect x="119" y="437" width="5" height="4" fill="#26a69a"/>
<rect x="127" y="437" width="1" height="7" fill="#ef5350"/>
<rect x="125" y="437" width="5" height="5" fill="#ef5350"/>
<rect x="134" y="439" width="1" height="10" fill="#ef5350"/>
<rect x="132" y="441" width="5" height="5" fill="#ef5350"/>
<rect x="140" y="445" width="1" height="13" fill="#ef5350"/>
<rect x="138" y="446" width="5" height="7" fill="#ef5350"/>
<rect x="147" y="448" width="1" height="7" fill="#26a69a"/>
<rect x="145" y="452" width="5" height="1" fill="#26a69a"/>
<rect x="153" y="438" width="1" height="15" fill="#26a69a"/>
<rect x="151" y="439" width="5" height="14" fill="#26a69a"/>
<rect x="159" y="423" width="1" height="17" fill="#26a69a"/>
<rect x="157" y="424" width="5" height="16" fill="#26a69a"/>
<rect x="166" y="425" width="1" height="10" fill="#ef5350"/>
<rect x="164" y="426" width="5" height="9" fill="#ef5350"/>
<rect x="172" y="427" width="1" height="18" fill="#ef5350"/>
<rect x="170" y="433" width="5" height="11" fill="#ef5350"/>
<rect x="179" y="437" width="1" height="10" fill="#26a69a"/>
<rect x="177" y="440" width="5" height="2" fill="#26a69a"/>
<rect x="185" y="440" width="1" height="17" fill="#ef5350"/>
<rect x="183" y="440" width="5" height="13" fill="#ef5350"/>
<rect x="191" y="449" width="1" height="7" fill="#26a69a"/>
<rect x="189" y="451" width="5" height="3" fill="#26a69a"/>
<rect x="198" y="450" width="1" height="13" fill="#ef5350"/>
<rect x="196" y="451" width="5" height="12" fill="#ef5350"/>
<rect x="204" y="452" width="1" height="18" fill="#26a69a"/>
<rect x="202" y="453" width="5" height="9" fill="#26a69a"/>
<rect x="211" y="451" width="1" height="14" fill="#ef5350"/>
<rect x="209" y="452" width="5" height="7" fill="#ef5350"/>
<rect x="217" y="451" width="1" height="7" fill="#26a69a"/>
<rect x="215" y="454" width="5" height="3" fill="#26a69a"/>
<rect x="223" y="444" width="1" height="14" fill="#26a69a"/>
<rect x="221" y="445" width="5" height="10" fill="#26a69a"/>
<rect x="230" y="440" width="1" height="6" fill="#26a69a"/>
<rect x="228" y="441" width="5" height="5" fill="#26a69a"/>
<rect x="236" y="437" width="1" height="10" fill="#ef5350"/>
<rect x="234" y="441" width="5" height="5" fill="#ef5350"/>
<rect x="243" y="434" width="1" height="11" fill="#26a69a"/>
<rect x="241" y="435" width="5" height="10" fill="#26a69a"/>
<rect x="249" y="435" width="1" height="5" fill="#ef5350"/>
<rect x="247" y="436" width="5" height="2" fill="#ef5350"/>
<rect x="255" y="436" width="1" height="9" fill="#ef5350"/>
<rect x="253" y="437" width="5" height="8" fill="#ef5350"/>
<rect x="262" y="440" width="1" height="7" fill="#ef5350"/>
<rect x="260" y="443" width="5" height="3" fill="#ef5350"/>
<rect x="268" y="439" width="1" height="13" fill="#26a69a"/>
<rect x="266" y="441" width="5" height="5" fill="#26a69a"/>
<rect x="274" y="440" width="1" height="8" fill="#ef5350"/>
<rect x="272" y="441" width="5" height="5" fill="#ef5350"/>
<rect x="281" y="431" width="1" height="13" fill="#26a69a"/>
<rect x="279" y="431" width="5" height="13" fill="#26a69a"/>
<rect x="287" y="430" width="1" height="9" fill="#ef5350"/>
<rect x="285" y="431" width="5" height="6" fill="#ef5350"/>
<rect x="294" y="432" width="1" height="5" fill="#26a69a"/>
<rect x="292" y="433" width="5" height="3" fill="#26a69a"/>
<rect x="300" y="428" width="1" height="10" fill="#ef5350"/>
<rect x="298" y="432" width="5" height="5" fill="#ef5350"/>
<rect x="306" y="433" width="1" height="10" fill="#ef5350"/>
<rect x="304" y="435" width="5" height="8" fill="#ef5350"/>
<rect x="313" y="438" width="1" height="7" fill="#26a69a"/>
<rect x="311" y="440" width="5" height="1" fill="#26a69a"/>
<rect x="319" y="436" width="1" height="6" fill="#ef5350"/>
<rect x="317" y="440" width="5" height="1" fill="#ef5350"/>
<rect x="326" y="435" width="1" height="6" fill="#26a69a"/>
<rect x="324" y="435" width="5" height="6" fill="#26a69a"/>
<rect x="332" y="429" width="1" height="9" fill="#26a69a"/>
<rect x="330" y="431" width="5" height="5" fill="#26a69a"/>
<rect x="338" y="422" width="1" height="10" fill="#26a69a"/>
<rect x="336" y="424" width="5" height="8" fill="#26a69a"/>
<rect x="345" y="421" width="1" height="11" fill="#ef5350"/>
<rect x="343" y="423" width="5" height="9" fill="#ef5350"/>
<rect x="351" y="428" width="1" height="5" fill="#26a69a"/>
<rect x="349" y="430" width="5" height="1" fill="#26a69a"/>
<rect x="358" y="429" width="1" height="5" fill="#ef5350"/>
<rect x="356" y="429" width="5" height="5" fill="#ef5350"/>
<rect x="364" y="430" width="1" height="6" fill="#ef5350"/>
<rect x="362" y="433" width="5" height="1" fill="#ef5350"/>
<rect x="370" y="432" width="1" height="6" fill="#ef5350"/>
<rect x="368" y="433" width="5" height="1" fill="#ef5350"/>
<rect x="377" y="430" width="1" height="6" fill="#ef5350"/>
<rect x="375" y="431" width="5" height="3" fill="#ef5350"/>
<rect x="383" y="434" width="1" height="10" fill="#ef5350"/>
<rect x="381" y="435" width="5" height="6" fill="#ef5350"/>
<rect x="390" y="438" width="1" height="4" fill="#26a69a"/>
<rect x="388" y="439" width="5" height="1" fill="#26a69a"/>
<rect x="396" y="436" width="1" height="6" fill="#ef5350"/>
<rect x="394" y="439" width="5" height="1" fill="#ef5350"/>
<rect x="402" y="440" width="1" height="10" fill="#ef5350"/>
<rect x="400" y="440" width="5" height="7" fill="#ef5350"/>
<rect x="409" y="442" width="1" height="10" fill="#26a69a"/>
<rect x="407" y="443" width="5" height="5" fill="#26a69a"/>
<rect x="415" y="435" width="1" height="8" fill="#26a69a"/>
<rect x="413" y="438" width="5" height="5" fill="#26a69a"/>
<rect x="422" y="435" width="1" height="5" fill="#26a69a"/>
<rect x="420" y="435" width="5" height="4" fill="#26a69a"/>
<rect x="428" y="434" width="1" height="8" fill="#ef5350"/>
<rect x="426" y="435" width="5" height="6" fill="#ef5350"/>
<rect x="434" y="437" width="1" height="4" fill="#26a69a"/>
<rect x="432" y="438" width="5" height="3" fill="#26a69a"/>
<rect x="441" y="437" width="1" height="7" fill="#ef5350"/>
<rect x="439" y="437" width="5" height="1" fill="#ef5350"/>
<rect x="447" y="437" width="1" height="9" fill="#ef5350"/>
<rect x="445" y="438" width="5" height="6" fill="#ef5350"/>
<rect x="454" y="441" width="1" height="5" fill="#26a69a"/>
<rect x="452" y="442" width="5" height="2" fill="#26a69a"/>
<rect x="460" y="439" width="1" height="3" fill="#26a69a"/>
<rect x="458" y="440" width="5" height="2" fill="#26a69a"/>
<rect x="466" y="433" width="1" height="8" fill="#26a69a"/>
<rect x="464" y="435" width="5" height="6" fill="#26a69a"/>
<rect x="473" y="432" width="1" height="7" fill="#ef5350"/>
<rect x="471" y="434" width="5" height="4" fill="#ef5350"/>
<rect x="479" y="434" width="1" height="7" fill="#ef5350"/>
<rect x="477" y="438" width="5" height="2" fill="#ef5350"/>
<rect x="486" y="431" width="1" height="10" fill="#26a69a"/>
<rect x="484" y="437" width="5" height="4" fill="#26a69a"/>
<rect x="492" y="437" width="1" height="5" fill="#ef5350"/>
<rect x="490" y="437" width="5" height="2" fill="#ef5350"/>
<rect x="498" y="434" width="1" height="5" fill="#26a69a"/>
<rect x="496" y="436" width="5" height="2" fill="#26a69a"/>
<rect x="505" y="428" width="1" height="8" fill="#26a69a"/>
<rect x="503" y="429" width="5" height="7" fill="#26a69a"/>
<rect x="511" y="424" width="1" height="7" fill="#26a69a"/>
<rect x="509" y="424" width="5" height="6" fill="#26a69a"/>
<rect x="518" y="423" width="1" height="8" fill="#ef5350"/>
<rect x="516" y="424" width="5" height="7" fill="#ef5350"/>
<rect x="524" y="430" width="1" height="6" fill="#ef5350"/>
<rect x="522" y="430" width="5" height="4" fill="#ef5350"/>
<rect x="530" y="433" width="1" height="7" fill="#ef5350"/>
<rect x="528" y="433" width="5" height="6" fill="#ef5350"/>
<rect x="537" y="437" width="1" height="6" fill="#ef5350"/>
<rect x="535" y="439" width="5" height="3" fill="#ef5350"/>
<rect x="543" y="439" width="1" height="4" fill="#26a69a"/>
<rect x="541" y="440" width="5" height="3" fill="#26a69a"/>
<rect x="549" y="439" width="1" height="9" fill="#ef5350"/>
<rect x="547" y="439" width="5" height="9" fill="#ef5350"/>
<rect x="556" y="441" width="1" height="7" fill="#26a69a"/>
<rect x="554" y="445" width="5" height="3" fill="#26a69a"/>
<rect x="562" y="434" width="1" height="12" fill="#26a69a"/>
<rect x="560" y="434" width="5" height="12" fill="#26a69a"/>
<rect x="569" y="431" width="1" height="6" fill="#26a69a"/>
<rect x="567" y="433" width="5" height="2" fill="#26a69a"/>
<rect x="575" y="430" width="1" height="6" fill="#26a69a"/>
<rect x="573" y="432" width="5" height="1" fill="#26a69a"/>
<rect x="581" y="431" width="1" height="4" fill="#ef5350"/>
<rect x="579" y="431" width="5" height="3" fill="#ef5350"/>
<rect x="588" y="428" width="1" height="6" fill="#26a69a"/>
<rect x="586" y="429" width="5" height="5" fill="#26a69a"/>
<rect x="594" y="427" width="1" height="5" fill="#ef5350"/>
<rect x="592" y="429" width="5" height="1" fill="#ef5350"/>
<rect x="601" y="429" width="1" height="9" fill="#ef5350"/>
<rect x="599" y="429" width="5" height="9" fill="#ef5350"/>
<rect x="607" y="435" width="1" height="4" fill="#26a69a"/>
<rect x="605" y="436" width="5" height="1" fill="#26a69a"/>
<rect x="613" y="433" width="1" height="4" fill="#26a69a"/>
<rect x="611" y="435" width="5" height="1" fill="#26a69a"/>
<rect x="620" y="432" width="1" height="7" fill="#ef5350"/>
<rect x="618" y="435" width="5" height="4" fill="#ef5350"/>
<rect x="626" y="436" width="1" height="3" fill="#ef5350"/>
<rect x="624" y="438" width="5" height="1" fill="#ef5350"/>
<rect x="633" y="436" width="1" height="4" fill="#ef5350"/>
<rect x="631" y="438" width="5" height="1" fill="#ef5350"/>
<rect x="639" y="437" width="1" height="5" fill="#ef5350"/>
<rect x="637" y="439" width="5" height="3" fill="#ef5350"/>
<rect x="645" y="436" width="1" height="6" fill="#26a69a"/>
<rect x="643" y="436" width="5" height="6" fill="#26a69a"/>
<rect x="652" y="437" width="1" height="3" fill="#ef5350"/>
<rect x="650" y="437" width="5" height="2" fill="#ef5350"/>
<rect x="658" y="432" width="1" height="8" fill="#26a69a"/>
<rect x="656" y="433" width="5" height="6" fill="#26a69a"/>
<rect x="665" y="432" width="1" height="3" fill="#ef5350"/>
<rect x="663" y="433" width="5" height="1" fill="#ef5350"/>
<rect x="671" y="430" width="1" height="6" fill="#26a69a"/>
<rect x="669" y="430" width="5" height="5" fill="#26a69a"/>
<rect x="677" y="429" width="1" height="4" fill="#26a69a"/>
<rect x="675" y="429" width="5" height="2" fill="#26a69a"/>
<rect x="684" y="425" width="1" height="6" fill="#26a69a"/>
<rect x="682" y="426" width="5" height="4" fill="#26a69a"/>
<rect x="690" y="421" width="1" height="6" fill="#26a69a"/>
<rect x="688" y="422" width="5" height="5" fill="#26a69a"/>
<rect x="697" y="415" width="1" height="7" fill="#26a69a"/>
<rect x="695" y="417" width="5" height="5" fill="#26a69a"/>
<rect x="703" y="408" width="1" height="10" fill="#26a69a"/>
<rect x="701" y="409" width="5" height="9" fill="#26a69a"/>
<rect x="709" y="402" width="1" height="8" fill="#26a69a"/>
<rect x="707" y="405" width="5" height="4" fill="#26a69a"/>
<rect x="716" y="404" width="1" height="8" fill="#ef5350"/>
<rect x="714" y="405" width="5" height="2" fill="#ef5350"/>
<rect x="722" y="400" width="1" height="8" fill="#26a69a"/>
<rect x="720" y="401" width="5" height="7" fill="#26a69a"/>
<rect x="729" y="392" width="1" height="10" fill="#26a69a"/>
<rect x="727" y="394" width="5" height="7" fill="#26a69a"/>
<rect x="735" y="388" width="1" height="8" fill="#ef5350"/>
<rect x="733" y="393" width="5" height="3" fill="#ef5350"/>
<rect x="741" y="390" width="1" height="6" fill="#26a69a"/>
<rect x="739" y="393" width="5" height="3" fill="#26a69a"/>
<rect x="748" y="392" width="1" height="5" fill="#ef5350"/>
<rect x="746" y="392" width="5" height="3" fill="#ef5350"/>
<rect x="754" y="390" width="1" height="5" fill="#26a69a"/>
<rect x="752" y="392" width="5" height="3" fill="#26a69a"/>
<rect x="761" y="386" width="1" height="9" fill="#26a69a"/>
<rect x="759" y="387" width="5" height="6" fill="#26a69a"/>
<rect x="767" y="383" width="1" height="5" fill="#26a69a"/>
<rect x="765" y="385" width="5" height="3" fill="#26a69a"/>
<rect x="773" y="383" width="1" height="9" fill="#ef5350"/>
<rect x="771" y="385" width="5" height="6" fill="#ef5350"/>
<rect x="780" y="388" width="1" height="7" fill="#ef5350"/>
<rect x="778" y="390" width="5" height="3" fill="#ef5350"/>
<rect x="786" y="386" width="1" height="8" fill="#26a69a"/>
<rect x="784" y="386" width="5" height="7" fill="#26a69a"/>
<rect x="792" y="377" width="1" height="9" fill="#26a69a"/>
<rect x="790" y="377" width="5" height="9" fill="#26a69a"/>
<rect x="799" y="370" width="1" height="8" fill="#26a69a"/>
<rect x="797" y="374" width="5" height="4" fill="#26a69a"/>
<rect x="805" y="372" width="1" height="9" fill="#ef5350"/>
<rect x="803" y="374" width="5" height="6" fill="#ef5350"/>
<rect x="812" y="376" width="1" height="5" fill="#26a69a"/>
<rect x="810" y="377" width="5" height="1" fill="#26a69a"/>
<rect x="818" y="371" width="1" height="8" fill="#26a69a"/>
<rect x="816" y="375" width="5" height="3" fill="#26a69a"/>
<rect x="824" y="364" width="1" height="11" fill="#26a69a"/>
<rect x="822" y="364" width="5" height="11" fill="#26a69a"/>
<rect x="831" y="358" width="1" height="12" fill="#26a69a"/>
<rect x="829" y="360" width="5" height="5" fill="#26a69a"/>
<rect x="837" y="355" width="1" height="6" fill="#26a69a"/>
<rect x="835" y="358" width="5" height="2" fill="#26a69a"/>
<rect x="844" y="355" width="1" height="11" fill="#ef5350"/>
<rect x="842" y="359" width="5" height="3" fill="#ef5350"/>
<rect x="850" y="355" width="1" height="8" fill="#26a69a"/>
<rect x="848" y="356" width="5" height="6" fill="#26a69a"/>
<rect x="856" y="344" width="1" height="12" fill="#26a69a"/>
<rect x="854" y="345" width="5" height="11" fill="#26a69a"/>
<rect x="863" y="341" width="1" height="7" fill="#26a69a"/>
<rect x="861" y="342" width="5" height="4" fill="#26a69a"/>
<rect x="869" y="330" width="1" height="11" fill="#26a69a"/>
<rect x="867" y="333" width="5" height="8" fill="#26a69a"/>
<rect x="876" y="331" width="1" height="16" fill="#ef5350"/>
<rect x="874" y="334" width="5" height="10" fill="#ef5350"/>
<rect x="882" y="336" width="1" height="11" fill="#26a69a"/>
<rect x="880" y="337" width="5" height="7" fill="#26a69a"/>
<rect x="888" y="322" width="1" height="17" fill="#26a69a"/>
<rect x="886" y="323" width="5" height="15" fill="#26a69a"/>
<rect x="895" y="312" width="1" height="14" fill="#26a69a"/>
<rect x="893" y="318" width="5" height="5" fill="#26a69a"/>
<rect x="901" y="307" width="1" height="12" fill="#26a69a"/>
<rect x="899" y="308" width="5" height="11" fill="#26a69a"/>
<rect x="908" y="290" width="1" height="19" fill="#26a69a"/>
<rect x="906" y="291" width="5" height="17" fill="#26a69a"/>
<rect x="914" y="282" width="1" height="29" fill="#ef5350"/>
<rect x="912" y="289" width="5" height="13" fill="#ef5350"/>
<rect x="920" y="282" width="1" height="25" fill="#26a69a"/>
<rect x="918" y="286" width="5" height="14" fill="#26a69a"/>
<rect x="927" y="283" width="1" height="44" fill="#ef5350"/>
<rect x="925" y="285" width="5" height="37" fill="#ef5350"/>
<rect x="933" y="315" width="1" height="24" fill="#ef5350"/>
<rect x="931" y="321" width="5" height="4" fill="#ef5350"/>
<rect x="940" y="316" width="1" height="13" fill="#26a69a"/>
<rect x="938" y="320" width="5" height="4" fill="#26a69a"/>
<rect x="946" y="318" width="1" height="15" fill="#ef5350"/>
<rect x="944" y="320" width="5" height="3" fill="#ef5350"/>
<rect x="952" y="323" width="1" height="20" fill="#ef5350"/>
<rect x="950" y="326" width="5" height="17" fill="#ef5350"/>
<rect x="959" y="336" width="1" height="20" fill="#ef5350"/>
<rect x="957" y="341" width="5" height="6" fill="#ef5350"/>
<rect x="965" y="335" width="1" height="18" fill="#ef5350"/>
<rect x="963" y="346" width="5" height="5" fill="#ef5350"/>
<rect x="972" y="335" width="1" height="17" fill="#26a69a"/>
<rect x="970" y="336" width="5" height="16" fill="#26a69a"/>
<rect x="978" y="332" width="1" height="11" fill="#ef5350"/>
<rect x="976" y="336" width="5" height="4" fill="#ef5350"/>
<rect x="984" y="335" width="1" height="10" fill="#26a69a"/>
<rect x="982" y="339" width="5" height="1" fill="#26a69a"/>
<rect x="991" y="338" width="1" height="12" fill="#ef5350"/>
<rect x="989" y="338" width="5" height="12" fill="#ef5350"/>
<rect x="997" y="341" width="1" height="9" fill="#26a69a"/>
<rect x="995" y="342" width="5" height="7" fill="#26a69a"/>
<rect x="1004" y="336" width="1" height="9" fill="#26a69a"/>
<rect x="1002" y="343" width="5" height="2" fill="#26a69a"/>
<rect x="1010" y="335" width="1" height="8" fill="#26a69a"/>
<rect x="1008" y="339" width="5" height="4" fill="#26a69a"/>
<rect x="1016" y="322" width="1" height="17" fill="#26a69a"/>
<rect x="1014" y="322" width="5" height="17" fill="#26a69a"/>
<rect x="1023" y="317" width="1" height="8" fill="#26a69a"/>
<rect x="1021" y="320" width="5" height="3" fill="#26a69a"/>
<rect x="1029" y="308" width="1" height="16" fill="#26a69a"/>
<rect x="1027" y="310" width="5" height="11" fill="#26a69a"/>
<rect x="1035" y="303" width="1" height="15" fill="#ef5350"/>
<rect x="1033" y="309" width="5" height="6" fill="#ef5350"/>
<rect x="1042" y="308" width="1" height="26" fill="#ef5350"/>
<rect x="1040" y="313" width="5" height="14" fill="#ef5350"/>
<rect x="1048" y="323" width="1" height="15" fill="#ef5350"/>
<rect x="1046" y="328" width="5" height="5" fill="#ef5350"/>
<rect x="1055" y="327" width="1" height="13" fill="#26a69a"/>
<rect x="1053" y="329" width="5" height="4" fill="#26a69a"/>
<rect x="1061" y="319" width="1" height="12" fill="#26a69a"/>
<rect x="1059" y="328" width="5" height="2" fill="#26a69a"/>
<rect x="1067" y="323" width="1" height="9" fill="#ef5350"/>
<rect x="1065" y="326" width="5" height="3" fill="#ef5350"/>
<rect x="1074" y="324" width="1" height="12" fill="#ef5350"/>
<rect x="1072" y="328" width="5" height="3" fill="#ef5350"/>
<rect x="1080" y="318" width="1" height="15" fill="#26a69a"/>
<rect x="1078" y="319" width="5" height="11" fill="#26a69a"/>
<rect x="1087" y="315" width="1" height="8" fill="#ef5350"/>
<rect x="1085" y="319" width="5" height="1" fill="#ef5350"/>
<rect x="1093" y="313" width="1" height="7" fill="#26a69a"/>
<rect x="1091" y="315" width="5" height="5" fill="#26a69a"/>
<rect x="1099" y="314" width="1" height="4" fill="#ef5350"/>
<rect x="1097" y="315" width="5" height="1" fill="#ef5350"/>
<rect x="1106" y="305" width="1" height="11" fill="#26a69a"/>
<rect x="1104" y="307" width="5" height="9" fill="#26a69a"/>
<rect x="1112" y="300" width="1" height="9" fill="#26a69a"/>
<rect x="1110" y="304" width="5" height="1" fill="#26a69a"/>
<rect x="1119" y="304" width="1" height="11" fill="#ef5350"/>
<rect x="1117" y="305" width="5" height="5" fill="#ef5350"/>
<rect x="1125" y="303" width="1" height="7" fill="#26a69a"/>
<rect x="1123" y="309" width="5" height="1" fill="#26a69a"/>
<rect x="1131" y="306" width="1" height="7" fill="#26a69a"/>
<rect x="1129" y="308" width="5" height="1" fill="#26a69a"/>
<rect x="1138" y="301" width="1" height="10" fill="#ef5350"/>
<rect x="1136" y="308" width="5" height="3" fill="#ef5350"/>
<rect x="1144" y="307" width="1" height="6" fill="#ef5350"/>
<rect x="1142" y="310" width="5" height="2" fill="#ef5350"/>
<rect x="1151" y="306" width="1" height="8" fill="#26a69a"/>
<rect x="1149" y="308" width="5" height="4" fill="#26a69a"/>
<rect x="1157" y="304" width="1" height="7" fill="#26a69a"/>
<rect x="1155" y="305" width="5" height="4" fill="#26a69a"/>
<rect x="1163" y="297" width="1" height="12" fill="#26a69a"/>
<rect x="1161" y="298" width="5" height="8" fill="#26a69a"/>
<rect x="1170" y="286" width="1" height="15" fill="#26a69a"/>
<rect x="1168" y="295" width="5" height="3" fill="#26a69a"/>
<rect x="1176" y="287" width="1" height="10" fill="#26a69a"/>
<rect x="1174" y="294" width="5" height="1" fill="#26a69a"/>
<rect x="1183" y="289" width="1" height="10" fill="#ef5350"/>
<rect x="1181" y="293" width="5" height="1" fill="#ef5350"/>
<rect x="1189" y="287" width="1" height="7" fill="#26a69a"/>
<rect x="1187" y="289" width="5" height="5" fill="#26a69a"/>
<rect x="1195" y="283" width="1" height="10" fill="#ef5350"/>
<rect x="1193" y="289" width="5" height="1" fill="#ef5350"/>
<rect x="1202" y="286" width="1" height="7" fill="#26a69a"/>
<rect x="1200" y="289" width="5" height="1" fill="#26a69a"/>
<rect x="1208" y="272" width="1" height="17" fill="#26a69a"/>
<rect x="1206" y="273" width="5" height="16" fill="#26a69a"/>
<rect x="1215" y="265" width="1" height="10" fill="#26a69a"/>
<rect x="1213" y="267" width="5" height="6" fill="#26a69a"/>
<rect x="1221" y="261" width="1" height="11" fill="#ef5350"/>
<rect x="1219" y="266" width="5" height="3" fill="#ef5350"/>
<rect x="1227" y="257" width="1" height="10" fill="#26a69a"/>
<rect x="1225" y="261" width="5" height="4" fill="#26a69a"/>
<rect x="1234" y="257" width="1" height="36" fill="#ef5350"/>
<rect x="1232" y="258" width="5" height="32" fill="#ef5350"/>
<rect x="1240" y="279" width="1" height="12" fill="#ef5350"/>
<rect x="1238" y="288" width="5" height="1" fill="#ef5350"/>
<rect x="1247" y="283" width="1" height="15" fill="#ef5350"/>
<rect x="1245" y="288" width="5" height="4" fill="#ef5350"/>
<rect x="1253" y="279" width="1" height="14" fill="#26a69a"/>
<rect x="1251" y="290" width="5" height="1" fill="#26a69a"/>
<rect x="1259" y="271" width="1" height="16" fill="#26a69a"/>
<rect x="1257" y="272" width="5" height="15" fill="#26a69a"/>
<rect x="1266" y="265" width="1" height="9" fill="#26a69a"/>
<rect x="1264" y="265" width="5" height="7" fill="#26a69a"/>
<rect x="1272" y="265" width="1" height="11" fill="#ef5350"/>
<rect x="1270" y="265" width="5" height="7" fill="#ef5350"/>
<rect x="1279" y="268" width="1" height="10" fill="#26a69a"/>
<rect x="1277" y="268" width="5" height="3" fill="#26a69a"/>
<rect x="1285" y="262" width="1" height="10" fill="#26a69a"/>
<rect x="1283" y="263" width="5" height="6" fill="#26a69a"/>
<rect x="1291" y="245" width="1" height="17" fill="#26a69a"/>
<rect x="1289" y="250" width="5" height="12" fill="#26a69a"/>
<rect x="1298" y="244" width="1" height="10" fill="#ef5350"/>
<rect x="1296" y="250" width="5" height="2" fill="#ef5350"/>
<rect x="1304" y="244" width="1" height="7" fill="#26a69a"/>
<rect x="1302" y="246" width="5" height="5" fill="#26a69a"/>
<rect x="1310" y="246" width="1" height="7" fill="#ef5350"/>
<rect x="1308" y="246" width="5" height="2" fill="#ef5350"/>
<rect x="1317" y="247" width="1" height="12" fill="#ef5350"/>
<rect x="1315" y="247" width="5" height="4" fill="#ef5350"/>
<rect x="1323" y="236" width="1" height="7" fill="#26a69a"/>
<rect x="1321" y="239" width="5" height="4" fill="#26a69a"/>
<rect x="1330" y="225" width="1" height="16" fill="#26a69a"/>
<rect x="1328" y="225" width="5" height="15" fill="#26a69a"/>
<rect x="1336" y="207" width="1" height="20" fill="#26a69a"/>
<rect x="1334" y="215" width="5" height="11" fill="#26a69a"/>
<rect x="1342" y="199" width="1" height="25" fill="#26a69a"/>
<rect x="1340" y="200" width="5" height="18" fill="#26a69a"/>
<rect x="1349" y="192" width="1" height="13" fill="#26a69a"/>
<rect x="1347" y="192" width="5" height="6" fill="#26a69a"/>
<rect x="1355" y="173" width="1" height="18" fill="#ef5350"/>
<rect x="1353" y="188" width="5" height="2" fill="#ef5350"/>
<rect x="1362" y="162" width="1" height="26" fill="#26a69a"/>
<rect x="1360" y="163" width="5" height="22" fill="#26a69a"/>
<rect x="1368" y="127" width="1" height="40" fill="#26a69a"/>
<rect x="1366" y="128" width="5" height="36" fill="#26a69a"/>
<rect x="1374" y="100" width="1" height="76" fill="#ef5350"/>
<rect x="1372" y="123" width="5" height="13" fill="#ef5350"/>
<rect x="1381" y="123" width="1" height="115" fill="#ef5350"/>
<rect x="1379" y="127" width="5" height="80" fill="#ef5350"/>
<rect x="1387" y="207" width="1" height="72" fill="#ef5350"/>
<rect x="1385" y="215" width="5" height="26" fill="#ef5350"/>
<rect x="1394" y="191" width="1" height="44" fill="#26a69a"/>
<rect x="1392" y="198" width="5" height="37" fill="#26a69a"/>
<rect x="1400" y="176" width="1" height="36" fill="#26a69a"/>
<rect x="1398" y="195" width="5" height="1" fill="#26a69a"/>
<rect x="1406" y="186" width="1" height="40" fill="#ef5350"/>
<rect x="1404" y="191" width="5" height="33" fill="#ef5350"/>
<rect x="1413" y="194" width="1" height="47" fill="#26a69a"/>
<rect x="1411" y="195" width="5" height="29" fill="#26a69a"/>
<rect x="1419" y="177" width="1" height="18" fill="#26a69a"/>
<rect x="1417" y="181" width="5" height="12" fill="#26a69a"/>
<rect x="1426" y="178" width="1" height="14" fill="#ef5350"/>
<rect x="1424" y="181" width="5" height="6" fill="#ef5350"/>
<rect x="1432" y="172" width="1" height="15" fill="#26a69a"/>
<rect x="1430" y="177" width="5" height="9" fill="#26a69a"/>
<rect x="1438" y="176" width="1" height="32" fill="#ef5350"/>
<rect x="1436" y="176" width="5" height="27" fill="#ef5350"/>
<rect x="1445" y="183" width="1" height="25" fill="#26a69a"/>
<rect x="1443" y="184" width="5" height="24" fill="#26a69a"/>
<rect x="1451" y="185" width="1" height="10" fill="#ef5350"/>
<rect x="1449" y="187" width="5" height="5" fill="#ef5350"/>
<rect x="1458" y="190" width="1" height="24" fill="#ef5350"/>
<rect x="1456" y="190" width="5" height="19" fill="#ef5350"/>
<rect x="1464" y="188" width="1" height="23" fill="#26a69a"/>
<rect x="1462" y="193" width="5" height="16" fill="#26a69a"/>
<rect x="1470" y="187" width="1" height="9" fill="#26a69a"/>
<rect x="1468" y="191" width="5" height="4" fill="#26a69a"/>
<rect x="1477" y="174" width="1" height="19" fill="#26a69a"/>
<rect x="1475" y="174" width="5" height="17" fill="#26a69a"/>
<rect x="1483" y="164" width="1" height="9" fill="#26a69a"/>
<rect x="1481" y="166" width="5" height="7" fill="#26a69a"/>
</g>
<line x1="5" y1="166.5" x2="1660" y2="166.5" stroke="#42a0f4" stroke-width="1" stroke-dasharray="1 2" shape-rendering="crispEdges"/>
</g>
<g clip-path="url(#cr)">
<rect x="5" y="616.5" width="1655" height="86" fill="#7e57c2" fill-opacity="0.1"/>
<polygon points="6.5,616.5 6.5,606.11 12.5,602.04 19.5,612.78 20.11,616.5" fill="url(#gg)"/>
<polygon points="55.4,616.5 57.5,613.52 59.75,616.5" fill="url(#gg)"/>
<polygon points="71.63,616.5 76.5,605.37 83.5,610 89.5,600.56 95.5,612.22 96.83,616.5" fill="url(#gg)"/>
<polygon points="698.32,616.5 703.5,606.11 709.5,602.04 716.5,608.89 722.5,602.04 729.5,595 735.5,599.81 741.5,597.96 748.5,601.48 754.5,599.81 761.5,594.07 767.5,592.78 773.5,609.44 779.7,616.5" fill="url(#gg)"/>
<polygon points="781.08,616.5 786.5,607.96 792.5,599.63 799.5,597.41 805.5,610.37 812.5,608.15 818.5,606.67 824.5,595.93 831.5,593.15 837.5,592.41 844.5,596.85 850.5,593.15 856.5,585.37 863.5,583.52 869.5,579.26 876.5,605.74 882.5,600.56 888.5,592.78 895.5,589.63 901.5,585.37 908.5,579.26 914.5,599.63 920.5,593.33 924.15,616.5" fill="url(#gg)"/>
<polygon points="1185.15,616.5 1189.5,611.67 1195.5,614.07 1202.5,613.15 1208.5,597.41 1215.5,592.78 1221.5,595 1227.5,589.44 1230.65,616.5" fill="url(#gg)"/>
<polygon points="1290.66,616.5 1291.5,615 1294.84,616.5" fill="url(#gg)"/>
<polygon points="1300.64,616.5 1304.5,613.52 1310.5,616.3 1310.75,616.5" fill="url(#gg)"/>
<polygon points="1321.4,616.5 1323.5,613.52 1330.5,603.52 1336.5,597.78 1342.5,590.93 1349.5,588.52 1355.5,587.22 1362.5,579.26 1368.5,572.78 1374.5,582.96 1378.2,616.5" fill="url(#gg)"/>
<line x1="4.8" y1="616.5" x2="1660" y2="616.5" stroke="#787b86" stroke-opacity="1" stroke-width="1" stroke-dasharray="5 6"/>
<line x1="4.8" y1="659.5" x2="1660" y2="659.5" stroke="#787b86" stroke-opacity="0.5" stroke-width="1" stroke-dasharray="5 6"/>
<line x1="4.8" y1="702.5" x2="1660" y2="702.5" stroke="#787b86" stroke-opacity="1" stroke-width="1" stroke-dasharray="5 6"/>
<path d="M5.19 615.37 L11.67 614.07 L17.96 613.52 L24.44 616.85 L30.74 621.48 L37.22 624.81 L43.7 626.11 L50 625.74 L62.96 624.81 L75.56 623.89 L88.33 624.26 L94.81 625.19 L101.3 627.04 L107.59 627.41 L114.07 626.48 L120.37 623.89 L126.85 622.04 L133.15 622.41 L139.63 624.63 L146.11 627.41 L158.89 629.26 L171.67 634.44 L184.44 640.37 L197.22 645.56 L210 649.26 L216.48 651.11 L229.26 651.67 L242.04 652.04 L254.81 654.26 L267.59 655.37 L274.07 654.81 L286.85 652.41 L299.63 649.81 L306.11 649.26 L310 649.26 L319.26 649.81 L331.67 649.63 L344.44 647.96 L357.22 646.85 L363.7 646.48 L376.48 647.96 L389.26 649.81 L402.04 652.04 L414.81 653.89 L427.59 656.11 L440.37 658.15 L453.15 660.74 L459.63 661.67 L472.41 661.3 L485.19 660 L497.96 657.59 L504.44 656.3 L517.22 653.89 L530 653.52 L542.78 653.89 L549.26 655.19 L555.56 656.67 L562.04 656.67 L568.33 655.74 L581.3 655.19 L587.59 654.44 L594.07 654.81 L600.37 656.67 L613.15 658.52 L620 658.89 L632.41 657.96 L645.19 656.3 L657.96 657.04 L670.74 656.67 L683.52 655.74 L696.48 650.56 L702.78 647.04 L709.26 642.78 L715.56 638.52 L722.04 634.44 L728.33 628.89 L734.81 624.26 L747.59 616.85 L760.37 609.07 L766.85 606.11 L773.15 604.26 L785.93 602.96 L792.41 602.41 L805.19 602.04 L817.96 603.33 L830.74 602.96 L843.52 602.04 L850 601.67 L856.48 600.74 L862.78 599.26 L869.26 596.85 L875.56 596.11 L888.33 596.11 L894.81 595 L901.3 593.15 L907.59 591.3 L914.07 591.3 L920.37 591.3 L926.85 595.56 L930 596.48 L939.63 600.74 L945.93 604.44 L952.41 610.37 L965.19 620.56 L977.96 629.26 L984.44 633.52 L997.22 645.93 L1003.52 650.56 L1010 653.89 L1016.48 654.44 L1022.78 654.44 L1035.56 653.33 L1048.33 651.48 L1054.81 650.74 L1067.59 650.56 L1074.07 650.19 L1080.37 648.7 L1086.85 647.41 L1099.63 644.63 L1112.41 643.33 L1125.19 643.33 L1131.67 642.41 L1144.44 639.63 L1157.22 637.59 L1163.7 634.81 L1176.48 631.3 L1189.26 627.96 L1195.56 626.67 L1202.04 625.74 L1208.33 622.96 L1214.81 620 L1221.3 616.85 L1227.59 613.7 L1234.07 614.63 L1240 615.37 L1246.85 617.78 L1259.63 620 L1265.93 620.56 L1278.89 622.96 L1291.67 624.26 L1304.44 627.41 L1310.74 628.89 L1317.22 630.74 L1323.52 628.52 L1330 625.19 L1336.48 620.56 L1342.78 616.3 L1349.26 613.52 L1355.56 610.74 L1362.04 606.67 L1368.33 602.96 L1374.81 600.19 L1381.11 602.04 L1387.59 605.37 L1400.37 609.44 L1413.15 614.63 L1419.63 617.41 L1425.93 621.11 L1432.41 624.81 L1438.89 629.44 L1445.19 633.52 L1451.67 638.7 L1457.96 645 L1464.44 649.81 L1470.74 649.81 L1477.22 648.33 L1483.5 647.78" fill="none" stroke="#fdd835" stroke-width="1.6" stroke-linejoin="round"/>
<path d="M6.5 606.11 L12.5 602.04 L19.5 612.78 L25.5 649.26 L31.5 667.22 L38.5 667.22 L44.5 642.78 L51.5 622.04 L57.5 613.52 L63.5 621.48 L70.5 619.07 L76.5 605.37 L83.5 610 L89.5 600.56 L95.5 612.22 L102.5 634.81 L108.5 627.41 L115.5 633.52 L121.5 630.37 L127.5 636.3 L134.5 643.7 L140.5 652.96 L147.5 652.41 L153.5 638.15 L159.5 624.63 L166.5 636.3 L172.5 649.26 L179.5 646.48 L185.5 661.3 L191.5 659.44 L198.5 670 L204.5 660.37 L211.5 665 L217.5 660.74 L223.5 651.11 L230.5 647.41 L236.5 650.56 L243.5 641.48 L249.5 645 L255.5 652.96 L262.5 655.19 L268.5 650.19 L274.5 655.74 L281.5 640.37 L287.5 645.93 L294.5 643.15 L300.5 647.96 L306.5 656.3 L313.5 653.52 L319.5 654.26 L326.5 647.41 L332.5 641.85 L338.5 633.15 L345.5 645.56 L351.5 645 L358.5 649.81 L364.5 649.81 L370.5 650.19 L377.5 649.81 L383.5 663.52 L390.5 660.37 L396.5 662.22 L402.5 676.67 L409.5 666.48 L415.5 656.67 L422.5 651.48 L428.5 660.93 L434.5 657.59 L441.5 658.15 L447.5 668.33 L454.5 665 L460.5 661.3 L466.5 650.56 L473.5 655.19 L479.5 661.3 L486.5 653.52 L492.5 656.67 L498.5 652.41 L505.5 639.07 L511.5 628.89 L518.5 645.93 L524.5 651.48 L530.5 662.22 L537.5 669.63 L543.5 665.37 L549.5 679.44 L556.5 673.89 L562.5 652.04 L569.5 649.26 L575.5 647.04 L581.5 651.11 L588.5 643.33 L594.5 643.15 L601.5 661.85 L607.5 660.37 L613.5 657.59 L620.5 664.44 L626.5 664.44 L633.5 665.56 L639.5 671.48 L645.5 658.15 L652.5 661.67 L658.5 649.63 L665.5 651.67 L671.5 642.22 L677.5 640.93 L684.5 634.44 L690.5 624.81 L697.5 618.15 L703.5 606.11 L709.5 602.04 L716.5 608.89 L722.5 602.04 L729.5 595 L735.5 599.81 L741.5 597.96 L748.5 601.48 L754.5 599.81 L761.5 594.07 L767.5 592.78 L773.5 609.44 L780.5 617.41 L786.5 607.96 L792.5 599.63 L799.5 597.41 L805.5 610.37 L812.5 608.15 L818.5 606.67 L824.5 595.93 L831.5 593.15 L837.5 592.41 L844.5 596.85 L850.5 593.15 L856.5 585.37 L863.5 583.52 L869.5 579.26 L876.5 605.74 L882.5 600.56 L888.5 592.78 L895.5 589.63 L901.5 585.37 L908.5 579.26 L914.5 599.63 L920.5 593.33 L927.5 637.78 L933.5 641.3 L940.5 638.7 L946.5 640.56 L952.5 660 L959.5 663.52 L965.5 666.85 L972.5 653.89 L978.5 656.67 L984.5 657.04 L991.5 667.22 L997.5 660 L1004.5 660.37 L1010.5 656.3 L1016.5 640 L1023.5 638.52 L1029.5 630.19 L1035.5 635 L1042.5 650.56 L1048.5 657.04 L1055.5 653.89 L1061.5 652.04 L1067.5 652.04 L1074.5 654.44 L1080.5 642.78 L1087.5 643.33 L1093.5 637.78 L1099.5 639.44 L1106.5 630.19 L1112.5 627.41 L1119.5 634.81 L1125.5 635.74 L1131.5 634.81 L1138.5 637.78 L1144.5 640.37 L1151.5 635.74 L1157.5 631.67 L1163.5 621.85 L1170.5 618.15 L1176.5 616.85 L1183.5 618.33 L1189.5 611.67 L1195.5 614.07 L1202.5 613.15 L1208.5 597.41 L1215.5 592.78 L1221.5 595 L1227.5 589.44 L1234.5 649.63 L1240.5 648.7 L1247.5 652.04 L1253.5 650.56 L1259.5 630.19 L1266.5 624.63 L1272.5 633.52 L1279.5 630.74 L1285.5 625.74 L1291.5 615 L1298.5 618.15 L1304.5 613.52 L1310.5 616.3 L1317.5 622.04 L1323.5 613.52 L1330.5 603.52 L1336.5 597.78 L1342.5 590.93 L1349.5 588.52 L1355.5 587.22 L1362.5 579.26 L1368.5 572.78 L1374.5 582.96 L1381.5 646.48 L1387.5 665.37 L1394.5 645.93 L1400.5 645 L1406.5 658.52 L1413.5 646.48 L1419.5 641.48 L1426.5 644.07 L1432.5 640.56 L1438.5 653.33 L1445.5 645.93 L1451.5 649.81 L1458.5 658.52 L1464.5 651.48 L1470.5 650.19 L1477.5 642.78 L1483.5 638.7" fill="none" stroke="#7e57c2" stroke-width="1.6" stroke-linejoin="round"/>
</g>
</svg>
<span class="t" style="left:1674.2px;top:151px;font-size:16.6px;color:#434651;font-weight:normal;transform:scaleX(1.0613);-webkit-text-stroke:0.3px #434651;">5,200.000</span>
<div class="b" style="left:12px;top:168px;width:358px;height:28px;background:#fff;"></div>
<div class="b" style="left:12px;top:204px;width:188px;height:27px;background:#fff;"></div>
<div class="b" style="left:12px;top:240px;width:188px;height:27px;background:#fff;"></div>
<div class="b" style="left:12px;top:569px;width:193px;height:25px;background:#fff;"></div>
<div class="b" style="left:5px;top:555px;width:1762px;height:2px;background:#e0e3eb;"></div>
<div class="b" style="left:5px;top:716px;width:1762px;height:1px;background:#555866;"></div>
<div class="b" style="left:5px;top:757px;width:1762px;height:1px;background:#e0e3eb;"></div>
<div class="b" style="left:1666.2px;top:64px;width:95.8px;height:38px;background:#fff;border:1px solid #e6e8ec;border-radius:6px;"></div>
<div class="b" style="left:1685.2px;top:107.8px;width:1.6px;height:1.6px;background:#6a6d78;border-radius:50%;"></div>
<div class="b" style="left:19px;top:106.2px;width:116.7px;height:50.5px;background:#fff;border:1px solid #f23645;border-radius:8px;"></div>
<div class="b" style="left:189.4px;top:106.2px;width:116.4px;height:50.5px;background:#fff;border:1px solid #2962ff;border-radius:8px;"></div>
<div class="b" style="left:19.3px;top:276.3px;width:41.5px;height:29.2px;background:#fff;border:1px solid #dcdfe6;border-radius:4px;"></div>
<div class="b" style="left:448px;top:69px;width:30px;height:26.8px;background:#dff3ef;border-radius:13.4px 0 0 13.4px;"></div>
<div class="b" style="left:478px;top:69px;width:30px;height:26.8px;background:#fbdfe9;border-radius:0 13.4px 13.4px 0;"></div>
<div class="b" style="left:457.9px;top:75.8px;width:12.2px;height:12.2px;background:#089981;border-radius:50%;"></div>
<div class="b" style="left:53px;top:167.8px;width:27px;height:27px;background:#e9e0fd;border-radius:50%;"></div>
<div class="b" style="left:56.4px;top:567.3px;width:27px;height:27px;background:#e9e0fd;border-radius:50%;"></div>
<div class="b" style="left:305.1px;top:82.2px;width:3.4px;height:3.4px;background:#434651;border-radius:50%;"></div>
<div class="b" style="left:350.6px;top:82.2px;width:3.4px;height:3.4px;background:#434651;border-radius:50%;"></div>
<div class="b" style="left:18.1px;top:69px;width:26.8px;height:26.8px;background:#d79b06;border-radius:50%;"></div>
<div class="b" style="left:1583px;top:153px;width:78px;height:26.6px;background:#2196f3;border-radius:3px 0 0 3px;"></div>
<div class="b" style="left:1661px;top:153px;width:99.2px;height:47.8px;background:#2196f3;border-radius:0 3px 3px 0;"></div>
<div class="b" style="left:1660px;top:58px;width:1px;height:497px;background:#555866;"></div>
<div class="b" style="left:1660px;top:557px;width:1px;height:200px;background:#555866;"></div>
<svg width="1767" height="810" viewBox="0 0 1767 810" style="position:absolute;left:0;top:0">
<path d="M168.6 15.2 L184.6 15.2 L187.9 21.8 L176.5 33.1 L165.1 22.3 Z" fill="none" stroke="#131313" stroke-width="1.5" stroke-linecap="round" stroke-linejoin="round"/>
<rect x="173.8" y="20.2" width="5.8" height="4.6" fill="#131313"/><rect x="175.9" y="18.3" width="1.5" height="9.2" fill="#131313"/>
<circle cx="231.3" cy="24.5" r="13.8" fill="none" stroke="#131313" stroke-width="1.5" stroke-linecap="round" stroke-linejoin="round"/>
<path d="M224.6 24.5 H238 M231.3 17.8 V31.2" fill="none" stroke="#131313" stroke-width="1.5" stroke-linecap="round" stroke-linejoin="round"/>
<path d="M403.6 21.8 L409.1 26.8 L414.6 21.8" fill="none" stroke="#131313" stroke-width="1.5" stroke-linecap="round" stroke-linejoin="round"/>
<path d="M1360.2 21.8 L1365.9 26.9 L1371.6 21.8" fill="none" stroke="#131313" stroke-width="1.5" stroke-linecap="round" stroke-linejoin="round"/>
<rect x="460.2" y="13.6" width="6.5" height="19.7" fill="none" stroke="#131313" stroke-width="1.5" stroke-linecap="round" stroke-linejoin="round"/><path d="M463.5 9.2 V13.6 M463.5 33.3 V38.6" fill="none" stroke="#131313" stroke-width="1.5" stroke-linecap="round" stroke-linejoin="round"/>
<rect x="472.6" y="18.3" width="6.5" height="10.9" fill="none" stroke="#131313" stroke-width="1.5" stroke-linecap="round" stroke-linejoin="round"/><path d="M475.9 13.8 V18.3 M475.9 29.2 V34.2" fill="none" stroke="#131313" stroke-width="1.5" stroke-linecap="round" stroke-linejoin="round"/>
<path d="M528.1 20.6 L536 13.1 L542.2 18.3 L553.1 10.7" fill="none" stroke="#131313" stroke-width="1.5" stroke-linecap="round" stroke-linejoin="round"/>
<path d="M528.4 36.6 V30.7 H534.6 V36.6 M534.6 30.7 V26.1 H540.5 V36.6 M540.5 29.2 H546.4 V36.6 M546.4 29.2 V21.7 H552.8 V36.6 H528.4" fill="none" stroke="#131313" stroke-width="1.5" stroke-linecap="round" stroke-linejoin="round"/>
<rect x="691.2" y="12.6" width="9.6" height="9" rx="2.6" fill="none" stroke="#131313" stroke-width="1.5" stroke-linecap="round" stroke-linejoin="round"/>
<rect x="704.6" y="12.6" width="9.6" height="9" rx="2.6" fill="none" stroke="#131313" stroke-width="1.5" stroke-linecap="round" stroke-linejoin="round"/>
<rect x="691.2" y="26.4" width="9.6" height="9" rx="2.6" fill="none" stroke="#131313" stroke-width="1.5" stroke-linecap="round" stroke-linejoin="round"/>
<rect x="704.6" y="26.4" width="9.6" height="9" rx="2.6" fill="none" stroke="#131313" stroke-width="1.5" stroke-linecap="round" stroke-linejoin="round"/>
<path d="M773.8 37.1 A12.6 12.6 0 1 1 785.9 25.4" fill="none" stroke="#131313" stroke-width="1.5" stroke-linecap="round" stroke-linejoin="round"/>
<path d="M773.3 17 V24.9 H768.6" fill="none" stroke="#131313" stroke-width="1.5" stroke-linecap="round" stroke-linejoin="round"/>
<path d="M759.2 16 L764.4 10.8 M782.2 10.8 L787.4 16" fill="none" stroke="#131313" stroke-width="1.5" stroke-linecap="round" stroke-linejoin="round"/>
<path d="M775.8 33.7 H788.8 M782.3 27.2 V40.2" fill="none" stroke="#131313" stroke-width="1.5" stroke-linecap="round" stroke-linejoin="round"/>
<path d="M890.3 16.2 V33.6 L881.3 24.9 Z" fill="none" stroke="#131313" stroke-width="1.5" stroke-linecap="round" stroke-linejoin="round"/>
<path d="M902.5 16.2 V33.6 L893.5 24.9 Z" fill="none" stroke="#131313" stroke-width="1.5" stroke-linecap="round" stroke-linejoin="round"/>
<path d="M1033.5 16.6 L1027.3 21.8 L1033.5 27 M1027.5 21.8 H1038.5 A7.2 7.2 0 0 1 1045.7 29 V31.4" fill="none" stroke="#9b9b9b" stroke-width="1.5" stroke-linecap="round" stroke-linejoin="round"/>
<path d="M1096.5 16.6 L1102.7 21.8 L1096.5 27 M1102.5 21.8 H1091.5 A7.2 7.2 0 0 0 1084.3 29 V31.4" fill="none" stroke="#9b9b9b" stroke-width="1.5" stroke-linecap="round" stroke-linejoin="round"/>
<rect x="1200.8" y="10.7" width="27.8" height="24.8" rx="4" fill="none" stroke="#131313" stroke-width="1.5" stroke-linecap="round" stroke-linejoin="round"/>
<path d="M1420.2 13.4 A10.8 10.8 0 1 0 1434.5 22.5" fill="none" stroke="#131313" stroke-width="1.5" stroke-linecap="round" stroke-linejoin="round"/>
<path d="M1431.6 30.8 L1439 38.6" fill="none" stroke="#131313" stroke-width="1.5" stroke-linecap="round" stroke-linejoin="round"/>
<path d="M1428.8 8.4 L1422.6 18.6 H1427.2 L1426 26 L1434.6 16.8 H1429.6 L1431 8.6 Z" fill="#fff" stroke="#131313" stroke-width="1.4" stroke-linejoin="round"/>
<path d="M1467.7 23.8 L1475.4 11.1 H1490.8 L1498.6 23.8 L1490.8 36.5 H1475.4 Z" fill="none" stroke="#131313" stroke-width="1.5" stroke-linecap="round" stroke-linejoin="round"/>
<circle cx="1483" cy="24.1" r="5.7" fill="none" stroke="#131313" stroke-width="1.5" stroke-linecap="round" stroke-linejoin="round"/>
<path d="M1528.6 19.6 V15.4 A3 3 0 0 1 1531.6 12.4 H1535.6 M1544.6 12.4 H1548.8 A3 3 0 0 1 1551.8 15.4 V19.6 M1551.8 28.4 V32.4 A3 3 0 0 1 1548.8 35.4 H1544.6 M1535.6 35.4 H1531.6 A3 3 0 0 1 1528.6 32.4 V28.4" fill="none" stroke="#131313" stroke-width="1.5" stroke-linecap="round" stroke-linejoin="round"/>
<path d="M1583.8 13.8 H1589.6 L1591.8 10.8 H1600.8 L1603 13.8 H1608.8 A3 3 0 0 1 1611.8 16.8 V32.4 A3 3 0 0 1 1608.8 35.4 H1583.8 A3 3 0 0 1 1580.8 32.4 V16.8 A3 3 0 0 1 1583.8 13.8 Z" fill="none" stroke="#131313" stroke-width="1.5" stroke-linecap="round" stroke-linejoin="round"/>
<circle cx="1596.3" cy="24.9" r="6" fill="none" stroke="#131313" stroke-width="1.5" stroke-linecap="round" stroke-linejoin="round"/>
<path d="M1747.4 80.6 L1750.9 83.8 L1754.4 80.6" fill="none" stroke="#131313" stroke-width="1.6" stroke-linecap="round" stroke-linejoin="round"/>
<path d="M34.4 293.6 L40 288.4 L45.6 293.6" fill="none" stroke="#131313" stroke-width="1.6" stroke-linecap="round" stroke-linejoin="round"/>
<path d="M485.6 79.4 q2.8 -3 5.6 -0.6 t5.6 -0.8 M485.6 85.4 q2.8 -3 5.6 -0.6 t5.6 -0.8" fill="none" stroke="#e0245e" stroke-width="1.9" stroke-linecap="round"/>
<g fill="none" stroke="#5b2ff0" stroke-width="2.1" stroke-linecap="butt"><path d="M58.90 178.50 A7.6 7.6 0 0 1 73.20 178.30"/><path d="M73.20 183.70 A7.6 7.6 0 0 1 59.10 183.10"/></g><path d="M70.00 179.40 L76.30 177.50 L73.70 182.10 Z" fill="#5b2ff0"/><path d="M55.70 183.40 L62.00 181.80 L58.60 180.30 Z" fill="#5b2ff0"/>
<g fill="none" stroke="#5b2ff0" stroke-width="2.1" stroke-linecap="butt"><path d="M62.30 577.90 A7.6 7.6 0 0 1 76.60 577.70"/><path d="M76.60 583.10 A7.6 7.6 0 0 1 62.50 582.50"/></g><path d="M73.40 578.80 L79.70 576.90 L77.10 581.50 Z" fill="#5b2ff0"/><path d="M59.10 582.80 L65.40 581.20 L62.00 579.70 Z" fill="#5b2ff0"/>
<path d="M26.5 80.7 L29.6 76.3 H33.6 L36.5 80.7 Z M21.3 86.8 L24.6 82.6 H28.2 L31.2 86.8 Z M31.9 86.8 L34.9 82.6 H38.6 L41.8 86.8 Z" fill="#fff"/>
<path d="M1703.4 738.4 L1708.7 729.2 H1719.3 L1724.6 738.4 L1719.3 747.6 H1708.7 Z" fill="none" stroke="#131313" stroke-width="1.3" stroke-linejoin="round"/>
<circle cx="1714" cy="738.4" r="3.4" fill="none" stroke="#131313" stroke-width="1.3"/>
<path d="M441.2 785.3 V778.6 A3 3 0 0 1 444.2 775.6 H463.8 A3 3 0 0 1 466.8 778.6 V795.1 A3 3 0 0 1 463.8 798.1 H454.3 M441.2 781.6 H466.8 M448.6 772.2 V777.6 M459.1 772.2 V777.6" fill="none" stroke="#131313" stroke-width="1.5" stroke-linecap="round" stroke-linejoin="round"/>
<path d="M439.2 793.5 H450.4 M445.2 788.4 L450.6 793.5 L445.2 798.9" fill="none" stroke="#131313" stroke-width="1.5" stroke-linecap="round" stroke-linejoin="round"/>
<g stroke="#fff" stroke-width="3.4" stroke-linejoin="round" fill="#fff"><path d="M22.2 672.4 H41.1 V694.6 H32.4 V681.7 H22.2 Z M55.6 672.4 H67.6 L59.3 694.6 H47.2 Z"/><circle cx="48.5" cy="676.7" r="4.2"/></g>
<g fill="#131313"><path d="M22.2 672.4 H41.1 V694.6 H32.4 V681.7 H22.2 Z M55.6 672.4 H67.6 L59.3 694.6 H47.2 Z"/><circle cx="48.5" cy="676.7" r="4.2"/></g>
</svg>
<span class="lg" style="left:78.7px;top:669px;font-size:31.5px;font-weight:bold;color:#131313;-webkit-text-stroke:3.4px #fff;transform:scaleX(0.9763);" id="logoA">TradingView</span>
<span class="lg" style="left:78.7px;top:669px;font-size:31.5px;font-weight:bold;color:#131313;transform:scaleX(0.9763);" id="logoB">TradingView</span>
<span class="t" style="left:23.4px;top:14px;font-size:21.4px;color:#131313;font-weight:normal;transform:scaleX(0.8718);-webkit-text-stroke:0.7px #131313;">XAUUSD</span>
<span class="t" style="left:284px;top:14px;font-size:21.4px;color:#131313;font-weight:normal;transform:scaleX(0.8741);-webkit-text-stroke:0.3px #131313;">1m</span>
<span class="t" style="left:330.4px;top:14px;font-size:21.4px;color:#131313;font-weight:normal;transform:scaleX(0.8462);-webkit-text-stroke:0.3px #131313;">1h</span>
<span class="t" style="left:370.5px;top:14px;font-size:21.4px;color:#131313;font-weight:normal;transform:scaleX(0.7464);-webkit-text-stroke:0.3px #131313;">D</span>
<span class="t" style="left:567.9px;top:14px;font-size:21.4px;color:#131313;font-weight:normal;transform:scaleX(0.9852);-webkit-text-stroke:0.3px #131313;">Indicators</span>
<span class="t" style="left:801.1px;top:14px;font-size:21.4px;color:#131313;font-weight:normal;transform:scaleX(1.0346);-webkit-text-stroke:0.3px #131313;">Alert</span>
<span class="t" style="left:918.6px;top:14px;font-size:21.4px;color:#131313;font-weight:normal;transform:scaleX(0.9121);-webkit-text-stroke:0.3px #131313;">Replay</span>
<span class="t" style="left:1251.3px;top:14px;font-size:21.4px;color:#131313;font-weight:normal;transform:scaleX(0.9378);-webkit-text-stroke:0.3px #131313;">Unnamed</span>
<span class="t" style="left:1649.3px;top:14px;font-size:21.4px;color:#131313;font-weight:normal;transform:scaleX(0.9364);-webkit-text-stroke:0.3px #131313;">Trade</span>
<span class="t" style="left:1748.7px;top:14px;font-size:21.4px;color:#ffffff;font-weight:normal;transform:scaleX(0.9118);-webkit-text-stroke:0.3px #fff;">Publish</span>
<span class="t" style="left:51.6px;top:71px;font-size:24.1px;color:#434651;font-weight:normal;transform:scaleX(1.0079);-webkit-text-stroke:0.3px #434651;">Gold Spot / U.S. Dollar</span>
<span class="t" style="left:317.6px;top:71px;font-size:24.1px;color:#434651;font-weight:normal;transform:scaleX(0.8072);-webkit-text-stroke:0.3px #434651;">1D</span>
<span class="t" style="left:361.5px;top:71px;font-size:24.1px;color:#434651;font-weight:normal;transform:scaleX(0.8590);-webkit-text-stroke:0.3px #434651;">OANDA</span>
<span class="t" style="left:520.1px;top:73px;font-size:18.8px;color:#434651;font-weight:normal;transform:scaleX(0.8456);-webkit-text-stroke:0.3px #434651;">O</span>
<span class="t" style="left:535.4px;top:73px;font-size:18.8px;color:#22a497;font-weight:normal;transform:scaleX(1.0152);-webkit-text-stroke:0.3px #22a497;">5,118.710</span>
<span class="t" style="left:630.4px;top:73px;font-size:18.8px;color:#434651;font-weight:normal;transform:scaleX(0.8200);-webkit-text-stroke:0.3px #434651;">H</span>
<span class="t" style="left:644.4px;top:73px;font-size:18.8px;color:#22a497;font-weight:normal;transform:scaleX(0.9993);-webkit-text-stroke:0.3px #22a497;">5,172.315</span>
<span class="t" style="left:740px;top:73px;font-size:18.8px;color:#434651;font-weight:normal;transform:scaleX(0.7667);-webkit-text-stroke:0.3px #434651;">L</span>
<span class="t" style="left:750.7px;top:73px;font-size:18.8px;color:#22a497;font-weight:normal;transform:scaleX(1.0261);-webkit-text-stroke:0.3px #22a497;">5,117.815</span>
<span class="t" style="left:845.3px;top:73px;font-size:18.8px;color:#434651;font-weight:normal;transform:scaleX(0.7535);-webkit-text-stroke:0.3px #434651;">C</span>
<span class="t" style="left:858.9px;top:73px;font-size:18.8px;color:#22a497;font-weight:normal;transform:scaleX(0.9981);-webkit-text-stroke:0.3px #22a497;">5,162.840</span>
<span class="t" style="left:954px;top:73px;font-size:18.8px;color:#22a497;font-weight:normal;transform:scaleX(0.9701);-webkit-text-stroke:0.3px #22a497;">+54.585 (+1.07%)</span>
<span class="t" style="left:35.5px;top:112px;font-size:17.3px;color:#f23645;font-weight:normal;transform:scaleX(1.1130);-webkit-text-stroke:0.7px #f23645;">5,162.02</span>
<span class="t" style="left:112px;top:113px;font-size:12.5px;color:#f23645;font-weight:normal;transform:scaleX(1.0523);-webkit-text-stroke:0.5px #f23645;">0</span>
<span class="t" style="left:59.6px;top:134px;font-size:16.6px;color:#f23645;font-weight:normal;transform:scaleX(0.8599);-webkit-text-stroke:0.3px #f23645;">SELL</span>
<span class="t" style="left:148.3px;top:124px;font-size:15.2px;color:#131722;font-weight:normal;transform:scaleX(1.0526);font-family:'Liberation Serif',serif;">86.0</span>
<span class="t" style="left:205.9px;top:112px;font-size:17.3px;color:#2962ff;font-weight:normal;transform:scaleX(1.1130);-webkit-text-stroke:0.7px #2962ff;">5,162.88</span>
<span class="t" style="left:282.4px;top:113px;font-size:12.5px;color:#2962ff;font-weight:normal;transform:scaleX(1.0378);-webkit-text-stroke:0.5px #2962ff;">0</span>
<span class="t" style="left:232.3px;top:134px;font-size:16.6px;color:#2962ff;font-weight:normal;transform:scaleX(0.8648);-webkit-text-stroke:0.3px #2962ff;">BUY</span>
<span class="t" style="left:18.5px;top:173px;font-size:18.6px;color:#434651;font-weight:normal;transform:scaleX(0.8336);-webkit-text-stroke:0.3px #434651;">BB</span>
<span class="t" style="left:92.3px;top:173px;font-size:18.6px;color:#ff6d00;font-weight:normal;transform:scaleX(1.0294);-webkit-text-stroke:0.3px #ff6d00;">5,021.458</span>
<span class="t" style="left:187.4px;top:173px;font-size:18.6px;color:#2962ff;font-weight:normal;transform:scaleX(1.0221);-webkit-text-stroke:0.3px #2962ff;">5,364.284</span>
<span class="t" style="left:281.7px;top:173px;font-size:18.6px;color:#2962ff;font-weight:normal;transform:scaleX(1.0149);-webkit-text-stroke:0.3px #2962ff;">4,678.631</span>
<span class="t" style="left:18.5px;top:208px;font-size:18.6px;color:#434651;font-weight:normal;transform:scaleX(1.0316);-webkit-text-stroke:0.3px #434651;">Vol · Ticks</span>
<span class="t" style="left:119.8px;top:208px;font-size:18.6px;color:#22a497;font-weight:normal;transform:scaleX(0.9766);-webkit-text-stroke:0.3px #22a497;">138.38 K</span>
<span class="t" style="left:18.5px;top:245px;font-size:18.6px;color:#434651;font-weight:normal;transform:scaleX(1.0316);-webkit-text-stroke:0.3px #434651;">Vol · Ticks</span>
<span class="t" style="left:119.8px;top:245px;font-size:18.6px;color:#22a497;font-weight:normal;transform:scaleX(0.9766);-webkit-text-stroke:0.3px #22a497;">138.38 K</span>
<span class="t" style="left:18.7px;top:573px;font-size:18.6px;color:#434651;font-weight:normal;transform:scaleX(0.8008);-webkit-text-stroke:0.3px #434651;">RSI</span>
<span class="t" style="left:96.1px;top:573px;font-size:18.6px;color:#7e57c2;font-weight:normal;transform:scaleX(1.0066);-webkit-text-stroke:0.3px #7e57c2;">59.30</span>
<span class="t" style="left:153.1px;top:573px;font-size:18.6px;color:#f9c92d;font-weight:normal;transform:scaleX(1.0066);-webkit-text-stroke:0.3px #f9c92d;">55.26</span>
<span class="t" style="left:1674.2px;top:211px;font-size:16.6px;color:#434651;font-weight:normal;transform:scaleX(1.0613);-webkit-text-stroke:0.3px #434651;">4,800.000</span>
<span class="t" style="left:1674.2px;top:271px;font-size:16.6px;color:#434651;font-weight:normal;transform:scaleX(1.0613);-webkit-text-stroke:0.3px #434651;">4,400.000</span>
<span class="t" style="left:1674.2px;top:331px;font-size:16.6px;color:#434651;font-weight:normal;transform:scaleX(1.0613);-webkit-text-stroke:0.3px #434651;">4,000.000</span>
<span class="t" style="left:1674.2px;top:391px;font-size:16.6px;color:#434651;font-weight:normal;transform:scaleX(1.0613);-webkit-text-stroke:0.3px #434651;">3,600.000</span>
<span class="t" style="left:1674.2px;top:450px;font-size:16.6px;color:#434651;font-weight:normal;transform:scaleX(1.0613);-webkit-text-stroke:0.3px #434651;">3,200.000</span>
<span class="t" style="left:1674.2px;top:510px;font-size:16.6px;color:#434651;font-weight:normal;transform:scaleX(1.0613);-webkit-text-stroke:0.3px #434651;">2,800.000</span>
<span class="t" style="left:27.2px;top:778px;font-size:19.3px;color:#131722;font-weight:normal;transform:scaleX(0.8905);-webkit-text-stroke:0.3px #131722;">1D</span>
<span class="t" style="left:69px;top:778px;font-size:19.3px;color:#131722;font-weight:normal;transform:scaleX(0.9027);-webkit-text-stroke:0.3px #131722;">5D</span>
<span class="t" style="left:111.1px;top:778px;font-size:19.3px;color:#131722;font-weight:normal;transform:scaleX(0.9244);-webkit-text-stroke:0.3px #131722;">1M</span>
<span class="t" style="left:154.9px;top:778px;font-size:19.3px;color:#131722;font-weight:normal;transform:scaleX(0.9207);-webkit-text-stroke:0.3px #131722;">3M</span>
<span class="t" style="left:198.4px;top:778px;font-size:19.3px;color:#131722;font-weight:normal;transform:scaleX(0.9356);-webkit-text-stroke:0.3px #131722;">6M</span>
<span class="t" style="left:241.8px;top:778px;font-size:19.3px;color:#131722;font-weight:normal;transform:scaleX(0.9326);-webkit-text-stroke:0.3px #131722;">YTD</span>
<span class="t" style="left:297.8px;top:778px;font-size:19.3px;color:#131722;font-weight:normal;transform:scaleX(0.9051);-webkit-text-stroke:0.3px #131722;">1Y</span>
<span class="t" style="left:338.5px;top:778px;font-size:19.3px;color:#131722;font-weight:normal;transform:scaleX(0.9094);-webkit-text-stroke:0.3px #131722;">5Y</span>
<span class="t" style="left:379.3px;top:778px;font-size:19.3px;color:#131722;font-weight:normal;transform:scaleX(1.1063);-webkit-text-stroke:0.3px #131722;">All</span>
<span class="t" style="left:1605.4px;top:778px;font-size:19.2px;color:#131722;font-weight:normal;transform:scaleX(1.0275);-webkit-text-stroke:0.3px #131722;">09:26:35 UTC+7</span>
<span class="t" style="left:1589.3px;top:158px;font-size:17.5px;color:#ffffff;font-weight:normal;transform:scaleX(0.8619);-webkit-text-stroke:0.3px #fff;">XAUUSD</span>
<span class="t" style="left:1674.8px;top:158px;font-size:17.2px;color:#ffffff;font-weight:normal;transform:scaleX(1.0165);-webkit-text-stroke:0.55px #fff;">5,162.840</span>
<span class="t" style="left:1675.4px;top:179px;font-size:16.4px;color:#d6ebfd;font-weight:normal;transform:scaleX(1.0724);-webkit-text-stroke:0.3px #d6ebfd;">19:33:25</span>
<span class="t" style="left:1672px;top:75px;font-size:17.8px;color:#131722;font-weight:normal;transform:scaleX(0.7881);-webkit-text-stroke:0.3px #131722;">USD</span>
<div class="b" style="left:1661px;top:557px;width:106px;height:159px;overflow:hidden;"><span class="t" style="left:13.7px;top:42px;font-size:16.6px;color:#434651;font-weight:normal;transform:scaleX(1.0437);-webkit-text-stroke:0.3px #434651;">75.00</span><span class="t" style="left:13.7px;top:96px;font-size:16.6px;color:#434651;font-weight:normal;transform:scaleX(1.0437);-webkit-text-stroke:0.3px #434651;">50.00</span><span class="t" style="left:13.7px;top:149px;font-size:16.6px;color:#434651;font-weight:normal;transform:scaleX(1.0437);-webkit-text-stroke:0.3px #434651;">25.00</span></div>
<div class="b" style="left:5px;top:717px;width:1655px;height:40px;overflow:hidden;"><span class="t" style="left:118.86px;top:14px;font-size:16.8px;color:#434651;font-weight:normal;transform:scaleX(0.9850);-webkit-text-stroke:0.3px #434651;">May</span><span class="t" style="left:262.18px;top:14px;font-size:16.8px;color:#434651;font-weight:normal;transform:scaleX(0.9850);-webkit-text-stroke:0.3px #434651;">Jun</span><span class="t" style="left:398.91px;top:14px;font-size:16.8px;color:#434651;font-weight:normal;transform:scaleX(0.9850);-webkit-text-stroke:0.3px #434651;">Jul</span><span class="t" style="left:541.77px;top:14px;font-size:16.8px;color:#434651;font-weight:normal;transform:scaleX(0.9850);-webkit-text-stroke:0.3px #434651;">Aug</span><span class="t" style="left:676.77px;top:14px;font-size:16.8px;color:#434651;font-weight:normal;transform:scaleX(0.9850);-webkit-text-stroke:0.3px #434651;">Sep</span><span class="t" style="left:818.63px;top:14px;font-size:16.8px;color:#434651;font-weight:normal;transform:scaleX(0.9850);-webkit-text-stroke:0.3px #434651;">Oct</span><span class="t" style="left:963.77px;top:14px;font-size:16.8px;color:#434651;font-weight:normal;transform:scaleX(0.9850);-webkit-text-stroke:0.3px #434651;">Nov</span><span class="t" style="left:1091.77px;top:14px;font-size:16.8px;color:#434651;font-weight:normal;transform:scaleX(0.9850);-webkit-text-stroke:0.3px #434651;">Dec</span><span class="t" style="left:1367.23px;top:14px;font-size:16.8px;color:#434651;font-weight:normal;transform:scaleX(0.9850);-webkit-text-stroke:0.3px #434651;">Feb</span><span class="t" style="left:1495.27px;top:14px;font-size:16.8px;color:#434651;font-weight:normal;transform:scaleX(0.9850);-webkit-text-stroke:0.3px #434651;">Mar</span><span class="t" style="left:-13.87px;top:14px;font-size:16.8px;color:#434651;font-weight:normal;transform:scaleX(0.9850);-webkit-text-stroke:0.3px #434651;">Apr</span><span class="t" style="left:1637.63px;top:14px;font-size:16.8px;color:#434651;font-weight:normal;transform:scaleX(0.9850);-webkit-text-stroke:0.3px #434651;">Apr</span><span class="t" style="left:1228.06px;top:14px;font-size:16.8px;color:#434651;font-weight:bold;transform:scaleX(1.0400);">2026</span></div>
<div class="b" style="left:0;top:52px;width:5px;height:758px;background:#ececec;"></div>
</body></html>
